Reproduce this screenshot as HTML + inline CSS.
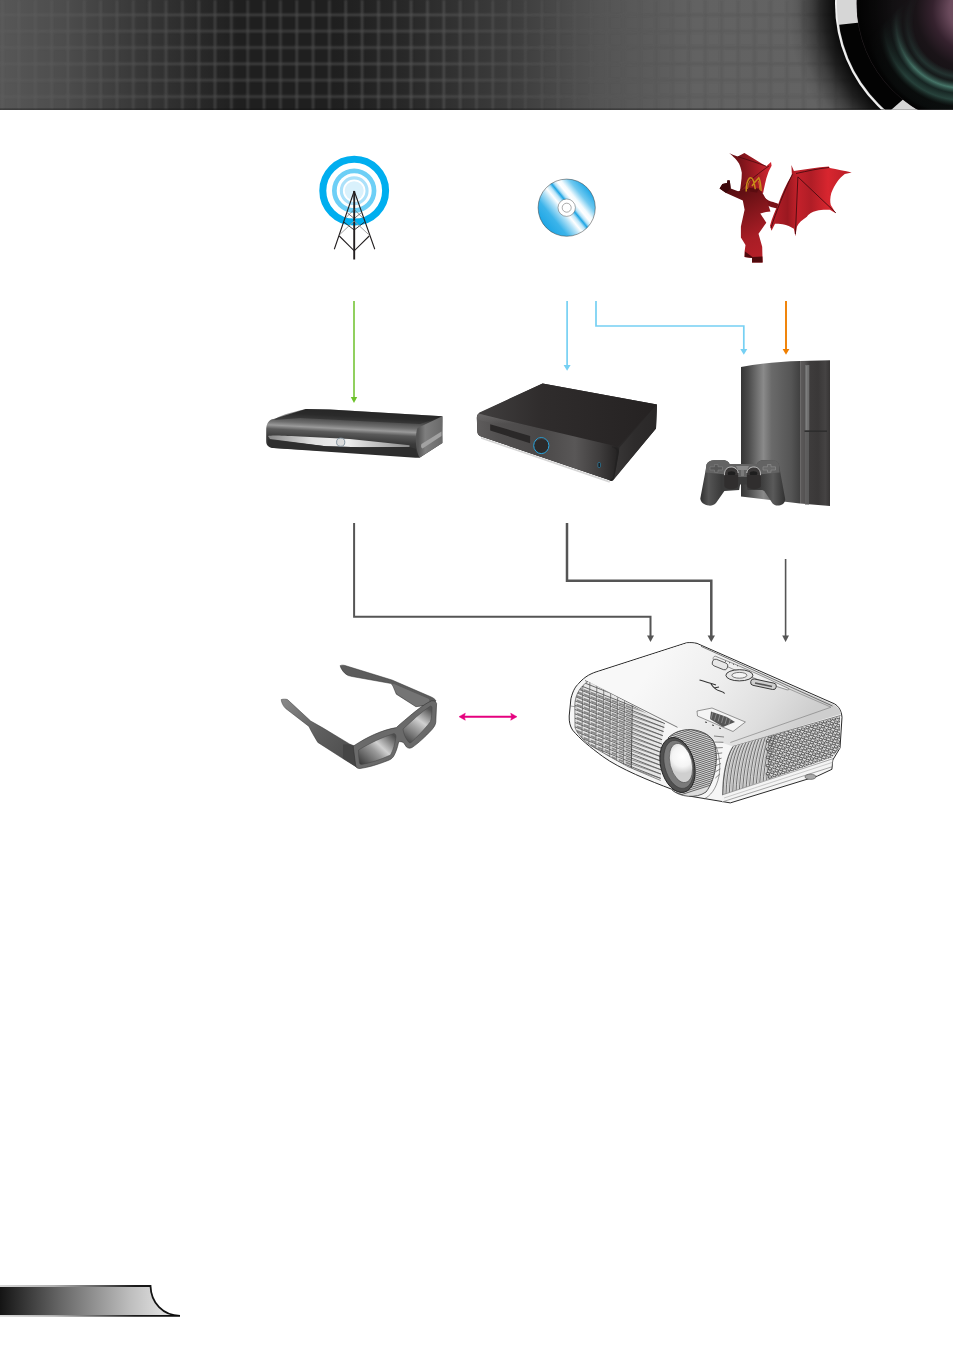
<!DOCTYPE html>
<html><head><meta charset="utf-8">
<style>
html,body{margin:0;padding:0;background:#fff;width:953px;height:1352px;overflow:hidden;font-family:"Liberation Sans",sans-serif;}
svg{display:block;position:absolute;left:0;top:0;}
</style></head>
<body>
<svg width="953" height="1352" viewBox="0 0 953 1352">
<defs>
  <linearGradient id="hdr" x1="0" y1="0" x2="953" y2="0" gradientUnits="userSpaceOnUse">
    <stop offset="0" stop-color="#575757"/>
    <stop offset="0.07" stop-color="#4c4c4c"/>
    <stop offset="0.136" stop-color="#3a3a3a"/>
    <stop offset="0.25" stop-color="#1f1f1f"/>
    <stop offset="0.35" stop-color="#1f1f1f"/>
    <stop offset="0.42" stop-color="#272727"/>
    <stop offset="0.545" stop-color="#3e3e3e"/>
    <stop offset="0.63" stop-color="#545454"/>
    <stop offset="0.73" stop-color="#626262"/>
    <stop offset="1" stop-color="#646464"/>
  </linearGradient>
  <clipPath id="lensBand"><circle cx="979" cy="4" r="141.5"/></clipPath>
  <filter id="gblur" x="-5%" y="-5%" width="110%" height="110%"><feGaussianBlur stdDeviation="0.85"/></filter>
  <pattern id="grid" x="1.76" y="-2.34" width="16.34" height="16.34" patternUnits="userSpaceOnUse">
    <rect x="0" y="-1" width="1.6" height="18.4" fill="#6a6a6a"/>
    <rect x="-1" y="0" width="18.4" height="1.6" fill="#6a6a6a"/>
  </pattern>
  <linearGradient id="gridMaskG" x1="0" y1="0" x2="953" y2="0" gradientUnits="userSpaceOnUse">
    <stop offset="0" stop-color="#fff" stop-opacity="0.35"/>
    <stop offset="0.2" stop-color="#fff" stop-opacity="0.6"/>
    <stop offset="0.45" stop-color="#fff" stop-opacity="0.7"/>
    <stop offset="0.62" stop-color="#fff" stop-opacity="0.25"/>
    <stop offset="0.8" stop-color="#fff" stop-opacity="0.1"/>
    <stop offset="1" stop-color="#fff" stop-opacity="0.1"/>
  </linearGradient>
  <pattern id="gridD" x="1.76" y="-2.34" width="16.34" height="16.34" patternUnits="userSpaceOnUse">
    <rect x="0" y="-1" width="1.8" height="18.4" fill="#4e4e4e"/>
    <rect x="-1" y="0" width="18.4" height="1.8" fill="#4e4e4e"/>
  </pattern>
  <linearGradient id="gridMaskD" x1="0" y1="0" x2="953" y2="0" gradientUnits="userSpaceOnUse">
    <stop offset="0.55" stop-color="#fff" stop-opacity="0"/>
    <stop offset="0.7" stop-color="#fff" stop-opacity="0.45"/>
    <stop offset="1" stop-color="#fff" stop-opacity="0.45"/>
  </linearGradient>
  <mask id="gridMask2" maskUnits="userSpaceOnUse" x="0" y="0" width="953" height="110"><rect x="0" y="0" width="953" height="110" fill="url(#gridMaskD)"/></mask>
  <mask id="gridMask" maskUnits="userSpaceOnUse" x="0" y="0" width="953" height="110"><rect x="0" y="0" width="953" height="110" fill="url(#gridMaskG)"/></mask>
  <radialGradient id="lensShadow" cx="979" cy="4" r="192" gradientUnits="userSpaceOnUse">
    <stop offset="0.74" stop-color="#000" stop-opacity="0.92"/>
    <stop offset="0.81" stop-color="#000" stop-opacity="0.68"/>
    <stop offset="0.87" stop-color="#000" stop-opacity="0.38"/>
    <stop offset="0.95" stop-color="#000" stop-opacity="0.08"/>
    <stop offset="1" stop-color="#000" stop-opacity="0"/>
  </radialGradient>
  <radialGradient id="lensIn" cx="975" cy="10" r="118" gradientUnits="userSpaceOnUse">
    <stop offset="0" stop-color="#7a5866"/>
    <stop offset="0.22" stop-color="#6a4a5c"/>
    <stop offset="0.36" stop-color="#35222e"/>
    <stop offset="0.5" stop-color="#1a1418"/>
    <stop offset="0.7" stop-color="#121012"/>
    <stop offset="1" stop-color="#080808"/>
  </radialGradient>
  <radialGradient id="lensTeal" cx="962" cy="22" r="110" gradientUnits="userSpaceOnUse">
    <stop offset="0.44" stop-color="#2e4a44" stop-opacity="0"/>
    <stop offset="0.5" stop-color="#2a423d" stop-opacity="0.7"/>
    <stop offset="0.54" stop-color="#182422" stop-opacity="0.5"/>
    <stop offset="0.6" stop-color="#4e8274" stop-opacity="0.95"/>
    <stop offset="0.65" stop-color="#1e3430" stop-opacity="0.8"/>
    <stop offset="0.71" stop-color="#3a6258" stop-opacity="0.9"/>
    <stop offset="0.77" stop-color="#121a18" stop-opacity="0.6"/>
    <stop offset="0.84" stop-color="#1e2a28" stop-opacity="0.5"/>
    <stop offset="0.9" stop-color="#000" stop-opacity="0"/>
  </radialGradient>
  <linearGradient id="tealMaskG" x1="0" y1="0" x2="1" y2="1">
    <stop offset="0.25" stop-color="#fff" stop-opacity="0"/>
    <stop offset="0.6" stop-color="#fff" stop-opacity="1"/>
  </linearGradient>
  <mask id="tealMask" maskUnits="userSpaceOnUse" x="850" y="0" width="110" height="110"><rect x="850" y="0" width="110" height="110" fill="url(#tealMaskG)"/></mask>
  <radialGradient id="lensDark" cx="979" cy="4" r="122" gradientUnits="userSpaceOnUse">
    <stop offset="0.7" stop-color="#000" stop-opacity="0"/>
    <stop offset="0.88" stop-color="#000" stop-opacity="0.35"/>
    <stop offset="1" stop-color="#000" stop-opacity="0.7"/>
  </radialGradient>
  <linearGradient id="footg" x1="0" y1="0" x2="160" y2="0" gradientUnits="userSpaceOnUse">
    <stop offset="0" stop-color="#141414"/>
    <stop offset="0.375" stop-color="#666666"/>
    <stop offset="0.81" stop-color="#bdbdbd"/>
    <stop offset="1" stop-color="#dcdcdc"/>
  </linearGradient>
  <linearGradient id="footS" x1="0" y1="0" x2="180" y2="0" gradientUnits="userSpaceOnUse">
    <stop offset="0" stop-color="#d8d8d8"/>
    <stop offset="0.3" stop-color="#b0b0b0"/>
    <stop offset="0.55" stop-color="#606060"/>
    <stop offset="0.75" stop-color="#1a1a1a"/>
    <stop offset="1" stop-color="#0a0a0a"/>
  </linearGradient>
</defs>

<!-- HEADER -->
<g id="header">
  <rect x="0" y="0" width="953" height="110" fill="url(#hdr)"/>
  <g mask="url(#gridMask)"><rect x="0" y="0" width="953" height="110" fill="url(#grid)" filter="url(#gblur)"/></g>
  <g mask="url(#gridMask2)"><rect x="0" y="0" width="953" height="110" fill="url(#gridD)" filter="url(#gblur)"/></g>
  <rect x="0" y="108.6" width="953" height="1" fill="#111" opacity="0.6"/>
  <clipPath id="hclip"><rect x="0" y="0" width="953" height="109.6"/></clipPath>
  <g clip-path="url(#hclip)">
    <circle cx="979" cy="4" r="192" fill="url(#lensShadow)"/>
    <circle cx="979" cy="4" r="144" fill="#f2f2f2"/>
    <circle cx="979" cy="4" r="142.2" fill="#d6d6d6"/>
    <path d="M820,27 L860,22.5 L940,60 L903,99.5 L891,110 L820,110 Z" fill="#030303" clip-path="url(#lensBand)"/>
    <circle cx="979" cy="4" r="122.5" fill="#2a2226"/>
    <circle cx="979" cy="4" r="122" fill="url(#lensIn)"/>
    <circle cx="979" cy="4" r="122" fill="url(#lensTeal)" mask="url(#tealMask)"/>
    <circle cx="979" cy="4" r="122" fill="url(#lensDark)"/>
  </g>
</g>

<!-- FOOTER -->
<g id="footer">
  <path d="M0,1286 L150.5,1286 C151,1303 163,1315.5 180,1315.8 L0,1315.8 Z" fill="url(#footg)"/>
  <path d="M0,1286 L150.5,1286 C151,1303 163,1315.5 180,1315.8 L0,1315.8" fill="none" stroke="url(#footS)" stroke-width="1.8"/>
</g>


<!-- TOWER ICON -->
<g id="tower">
  <circle cx="354.2" cy="190.7" r="31.4" fill="none" stroke="#00aeef" stroke-width="7"/>
  <circle cx="354.2" cy="190.7" r="19.85" fill="none" stroke="#6dcff6" stroke-width="4.7"/>
  <circle cx="354.2" cy="190.7" r="12.85" fill="none" stroke="#abe1fa" stroke-width="3.1"/>
  <circle cx="354.2" cy="190.7" r="9.5" fill="#d9f1fc"/>
  <g stroke="#231f20" fill="none" stroke-linecap="butt">
    <path d="M354.2,191 L334.3,249.3 M354.2,191 L374.8,249.3" stroke-width="1.1"/>
    <path d="M354.2,191 V259.5" stroke-width="1.9"/>
    <path d="M339.3,236 L354.2,250.8 L369.2,236" stroke-width="1.1"/>
    <path d="M343.8,222 L354.2,230 L364.6,222" stroke-width="0.9"/>
    <path d="M339.8,234.5 L354.2,221 L368.6,234.5" stroke="#999" stroke-width="0.9"/>
    <path d="M347.5,213 L354.2,218.5 L360.9,213" stroke-width="0.6"/>
    <path d="M344.5,219 L354.2,209.5 L363.9,219" stroke="#555" stroke-width="0.6"/>
  </g>
</g>

<!-- CD ICON -->
<g id="cd">
  <defs>
    <linearGradient id="cdg" x1="544.6" y1="225.8" x2="588.8" y2="189.6" gradientUnits="userSpaceOnUse">
      <stop offset="0" stop-color="#1ea6e5"/>
      <stop offset="0.2" stop-color="#3cb4ea"/>
      <stop offset="0.36" stop-color="#b4e2f7"/>
      <stop offset="0.44" stop-color="#ffffff"/>
      <stop offset="0.51" stop-color="#b8e4f8"/>
      <stop offset="0.56" stop-color="#1aa4e4"/>
      <stop offset="0.6" stop-color="#b0e0f6"/>
      <stop offset="0.66" stop-color="#ffffff"/>
      <stop offset="0.72" stop-color="#f4fbfe"/>
      <stop offset="0.84" stop-color="#70c9f0"/>
      <stop offset="1" stop-color="#22a9e7"/>
    </linearGradient>
  </defs>
  <circle cx="566.7" cy="207.7" r="28.6" fill="url(#cdg)" stroke="#3a3a3a" stroke-width="0.5"/>
  <circle cx="566.7" cy="207.7" r="8.7" fill="#fff" stroke="#4a4a4a" stroke-width="0.45"/>
  <circle cx="566.7" cy="207.7" r="4.5" fill="#fff" stroke="#4a4a4a" stroke-width="0.45"/>
</g>


<!-- DRAGON ICON -->
<g id="dragon">
  <defs>
    <linearGradient id="dwL" x1="736" y1="0" x2="770" y2="0" gradientUnits="userSpaceOnUse">
      <stop offset="0" stop-color="#6e1116"/>
      <stop offset="0.5" stop-color="#9c1a22"/>
      <stop offset="1" stop-color="#cf2530"/>
    </linearGradient>
    <linearGradient id="dwR" x1="772" y1="0" x2="850" y2="0" gradientUnits="userSpaceOnUse">
      <stop offset="0" stop-color="#b81e28"/>
      <stop offset="0.2" stop-color="#9a1820"/>
      <stop offset="0.33" stop-color="#c4212b"/>
      <stop offset="0.5" stop-color="#b01d26"/>
      <stop offset="0.72" stop-color="#d8262f"/>
      <stop offset="1" stop-color="#b81e27"/>
    </linearGradient>
    <linearGradient id="dbody" x1="725" y1="185" x2="765" y2="260" gradientUnits="userSpaceOnUse">
      <stop offset="0" stop-color="#4a0b0e"/>
      <stop offset="0.35" stop-color="#7a1419"/>
      <stop offset="0.7" stop-color="#a81d25"/>
      <stop offset="1" stop-color="#b82029"/>
    </linearGradient>
  </defs>
  <!-- left wing behind -->
  <path d="M728.9,153.1 C732,154.5 735,155.8 737.7,156.6 L744.4,153.1 C752,157.5 759,162 766.3,166.3 L771,162.1 L771.6,165.8 C770.5,168 769,170.5 768.2,172.8 C766.8,176.5 765.8,180 765,183.9 L763.1,193.1 L740,191.3 C740.3,188.5 740.6,186 740.9,183.9 C741.5,180 741.8,176.5 741.8,172.8 C741,168.5 740,165.5 739,163.5 C737,160.5 735.5,158.8 733.5,157 C732,155.5 730.5,154 728.9,153.1 Z" fill="url(#dwL)"/>
  <path d="M737.7,156.6 C748,160 758,163 766.3,166.3 M740.5,190 C750,180 760,172 769,166" stroke="#4a0a0e" stroke-width="0.8" fill="none"/>
  <!-- right wing -->
  <path d="M791.4,165 L793.9,171 C805,169.5 817,167 828.8,166.5 L829.8,168 C837,169.5 845,170.8 851.7,172.4 L844.8,173.9 C839,178 835,184 831.3,192.9 C830,198 830,202 830.8,204.9 L835.8,213.3 L829.8,209.8 C825,209.5 820,209.8 816.8,210.8 C812,212 808,214.5 806.9,216.8 C802,220 798.5,223 796.9,226.8 L795.4,236.3 L793.9,228.8 C790,226.5 787,225.3 784.9,224.8 C781,224 778,223.6 775,223.8 L771.5,230.8 L770,225.8 C772,218 775,211 778,204.8 C782,194 786,184 791.9,175 Z" fill="url(#dwR)"/>
  <path d="M797.9,176.9 L835.8,212.8 M797.9,176.9 L795.4,234 M796,173.5 C808,171 818,168.5 829,167.5 M771,228 C776,212 784,192 792.5,174" stroke="#4a0a0e" stroke-width="0.9" fill="none"/>
  <!-- arm to wing -->
  <path d="M758,189 C761,195 766,200 771,201.5 C774,202.3 776.5,203 778.5,204 L777,208.5 C773,207.5 769,206.5 765,204.5 C761,202 758.5,199 757,195 Z" fill="#7a1218"/>
  <!-- body -->
  <path d="M719.6,188.5 L722.4,183.9 L727,183 L727.5,180.2 L729.8,180.6 L730.7,188.5 L738.1,191.3 L748,188 L753.9,187.5 L760,189 L763.1,194 L766.8,200.5 L770.5,211.6 L766,212 L760.3,213.5 L766.3,222.7 L758.5,233.8 L762.2,246.8 L762.6,262.5 L752,262.5 L752,257.9 L744.6,256.9 L744.6,251.4 L745.5,244.9 L740.9,237.5 L740.9,226.4 L744.6,209.8 L742.8,200.5 L726.1,193.1 Z" fill="url(#dbody)"/>
  <path d="M744.6,256.9 L752,257.9 L752,262.5 L762.6,262.5 L762.4,256.5 L752.5,257 L745,251.5 Z" fill="#4f0a0d"/>
  <path d="M719.6,188.5 L722.4,183.9 L727,183 L727.5,180.2 L729.8,180.6 L730.7,188.5 L726.1,193.1 Z" fill="#3e080b"/>
  <!-- horns -->
  <path d="M746.2,191.5 C746,186 747,181 749.5,178 C751,177 752.5,178.5 753.5,181 C754.5,184 755,187 755.3,189.5 M752,186 C754,183 756.5,180.5 758.8,177.8 C760,180 760.8,184 761.2,191" stroke="#c8901a" stroke-width="1.4" fill="none"/>
  <path d="M747.5,189 C748,184 749.5,181 750.5,180.5 M758.5,181 C759.3,184 759.8,187 759.8,190" stroke="#e0b030" stroke-width="0.6" fill="none"/>
  <path d="M749,187.5 L755,189.5 L759,188.5 L757,192.5 L750,191.5 Z" fill="#5a0c10"/>
</g>


<!-- SET TOP BOX -->
<g id="stb">
  <defs>
    <linearGradient id="stbBody" x1="340" y1="406" x2="337.4" y2="455" gradientUnits="userSpaceOnUse">
      <stop offset="0" stop-color="#262626"/>
      <stop offset="0.2" stop-color="#333"/>
      <stop offset="0.38" stop-color="#6e6e6e"/>
      <stop offset="0.46" stop-color="#9a9a9a"/>
      <stop offset="0.54" stop-color="#5a5a5a"/>
      <stop offset="0.7" stop-color="#3a3a3a"/>
      <stop offset="1" stop-color="#2a2a2a"/>
    </linearGradient>
    <linearGradient id="stbStrip" x1="270" y1="0" x2="410" y2="0" gradientUnits="userSpaceOnUse">
      <stop offset="0" stop-color="#8a8a8a"/>
      <stop offset="0.3" stop-color="#e0e0e0"/>
      <stop offset="0.55" stop-color="#f0f0f0"/>
      <stop offset="0.8" stop-color="#b8b8b8"/>
      <stop offset="1" stop-color="#8a8a8a"/>
    </linearGradient>
    <linearGradient id="stbSide" x1="418" y1="0" x2="442" y2="0" gradientUnits="userSpaceOnUse">
      <stop offset="0" stop-color="#555"/>
      <stop offset="0.3" stop-color="#7e7e7e"/>
      <stop offset="1" stop-color="#6a6a6a"/>
    </linearGradient>
  </defs>
  <path d="M305.9,409 L330,409.5 L442.4,416.3 L442.4,442.9 L419.5,457.8 L415.5,457.8 L273,448 C268,447.5 266.2,445 266.2,441 L266.2,430 C266.2,423 269,419.5 273.5,418.9 Z" fill="url(#stbBody)"/>
  <path d="M305.9,409 L330,409.5 L442.4,416.3 L420,424 L300,418 L274,420 C278,416 290,412.5 305.9,409 Z" fill="#222" opacity="0.5"/>
  <path d="M268,436 C272,435 280,435.5 300,436.5 L349.7,438.9 L409.5,445.3 L409.5,446.9 L359.7,447.2 L325.8,446.2 L270,439 Z" fill="url(#stbStrip)"/>
  <path d="M268,439.5 L325.8,446.2 L359.7,447.2 L409.5,447 L416,449 L416,456 L274,448 C269,447.5 268,445 268,441 Z" fill="#2e2e2e"/>
  <circle cx="340.7" cy="442.2" r="4.1" fill="#dcdcdc" stroke="#7a8c98" stroke-width="0.9"/>
  <path d="M417.5,427.9 L442.4,416.3 L442.4,442.9 L419.5,457.8 C416.5,452 415.5,444 416,436 C416.3,432 416.8,429.5 417.5,427.9 Z" fill="url(#stbSide)"/>
  <path d="M421.5,444 L441.5,431.5 L441.5,436 L422.5,448.5 C420.8,448 420.8,445.5 421.5,444 Z" fill="#a2a2a2"/>
</g>

<!-- BLU-RAY PLAYER -->
<g id="bd">
  <defs>
    <linearGradient id="bdTop" x1="480" y1="0" x2="657" y2="0" gradientUnits="userSpaceOnUse">
      <stop offset="0" stop-color="#403e3e"/>
      <stop offset="0.35" stop-color="#2f2c2c"/>
      <stop offset="1" stop-color="#252222"/>
    </linearGradient>
    <linearGradient id="bdFront" x1="477" y1="0" x2="617" y2="0" gradientUnits="userSpaceOnUse">
      <stop offset="0" stop-color="#5e5c5c"/>
      <stop offset="0.15" stop-color="#525050"/>
      <stop offset="0.45" stop-color="#4a4848"/>
      <stop offset="0.7" stop-color="#595757"/>
      <stop offset="0.88" stop-color="#3e3c3c"/>
      <stop offset="1" stop-color="#262424"/>
    </linearGradient>
    <linearGradient id="bdSide" x1="612" y1="0" x2="657" y2="0" gradientUnits="userSpaceOnUse">
      <stop offset="0" stop-color="#3a3838"/>
      <stop offset="0.5" stop-color="#2e2c2c"/>
      <stop offset="1" stop-color="#2a2828"/>
    </linearGradient>
    <linearGradient id="bdRim" x1="0" y1="414" x2="0" y2="424" gradientUnits="userSpaceOnUse">
      <stop offset="0" stop-color="#6a6868" stop-opacity="0.9"/>
      <stop offset="1" stop-color="#6a6868" stop-opacity="0"/>
    </linearGradient>
  </defs>
  <path d="M542.6,383.4 L657,404.4 L656,428.5 L611.9,481 L481,436.5 C478,435.5 477.3,433.5 477.3,431 L476.8,418 C476.8,416 477.5,414.5 479,413.5 Z" fill="#2a2828"/>
  <path d="M542.6,383.4 L657,404.4 L620,444.5 C619,446 617.5,446.5 616,446.3 L479,413.8 C478,413.5 478.5,413 479.5,412.5 Z" fill="url(#bdTop)"/>
  <path d="M479,413.8 L616,446.3 C618.5,447 619.5,448.5 619,451 L613.5,478.5 C613,480.5 612,481 610.5,480.5 L481,436.5 C478.5,435.5 477.3,433.5 477.3,431 L476.9,418 C476.9,415 477.5,414 479,413.8 Z" fill="url(#bdFront)"/>
  <path d="M479,413.8 L616,446.3 C618.5,447 619.5,448.5 619,451 L618,455 L479,420 C477.5,419 477,416 479,413.8 Z" fill="url(#bdRim)"/>
  <path d="M619.5,447.5 L657,404.4 L656,428.5 L613,480.5 C614,478 616,470 617.5,460 Z" fill="url(#bdSide)"/>
  <path d="M612,446.5 C617,447.5 619,449 619,452 L614,479 C613,481 611.5,481.5 609,480.5 L613,478 L617,452 C617,449.5 615,448 612,447 Z" fill="#222020" opacity="0.8"/>
  <path d="M481,437 L610,481 L609.5,482.8 L481,438.8 Z" fill="#d6d6d6"/>
  <path d="M490.2,424.3 L530.1,435.9 L530.1,443.2 L490.2,430.6 Z" fill="#2a2828"/>
  <ellipse cx="541.3" cy="445.6" rx="7.6" ry="8" fill="#2c2a2a" stroke="#29a6df" stroke-width="1"/>
  <path d="M536,441 C538,438.5 542,438 545,439.5" fill="none" stroke="#4a4848" stroke-width="1"/>
  <rect x="598" y="462.5" width="2.4" height="5" rx="1" fill="#1a1a1a" stroke="#29a6df" stroke-width="0.5"/>
</g>

<!-- PS3 -->
<g id="ps3">
  <defs>
    <linearGradient id="psFace" x1="741" y1="0" x2="800" y2="0" gradientUnits="userSpaceOnUse">
      <stop offset="0" stop-color="#353535"/>
      <stop offset="0.12" stop-color="#4a4a4a"/>
      <stop offset="0.38" stop-color="#8a8a8a"/>
      <stop offset="0.52" stop-color="#6a6a6a"/>
      <stop offset="0.85" stop-color="#555"/>
      <stop offset="1" stop-color="#404040"/>
    </linearGradient>
    <linearGradient id="psSide" x1="800" y1="0" x2="830" y2="0" gradientUnits="userSpaceOnUse">
      <stop offset="0" stop-color="#5e5c5c"/>
      <stop offset="0.15" stop-color="#555353"/>
      <stop offset="0.32" stop-color="#3e3c3c"/>
      <stop offset="0.6" stop-color="#3a3838"/>
      <stop offset="0.85" stop-color="#454343"/>
      <stop offset="1" stop-color="#363434"/>
    </linearGradient>
    <linearGradient id="ctrl" x1="0" y1="460" x2="0" y2="506" gradientUnits="userSpaceOnUse">
      <stop offset="0" stop-color="#6a6a6a"/>
      <stop offset="0.3" stop-color="#4a4a4a"/>
      <stop offset="1" stop-color="#2e2e2e"/>
    </linearGradient>
    <linearGradient id="grip" x1="700" y1="0" x2="786" y2="0" gradientUnits="userSpaceOnUse">
      <stop offset="0" stop-color="#2e2e2e"/>
      <stop offset="0.1" stop-color="#555"/>
      <stop offset="0.25" stop-color="#3a3a3a"/>
      <stop offset="0.7" stop-color="#3a3a3a"/>
      <stop offset="0.85" stop-color="#5a5a5a"/>
      <stop offset="1" stop-color="#2e2e2e"/>
    </linearGradient>
  </defs>
  <path d="M741,367 C760,363.5 780,361.5 800.1,361 L800.1,503.4 L741,496.6 Z" fill="url(#psFace)"/>
  <path d="M800.1,361 L830,360.2 L830,506 L800.1,503.4 Z" fill="url(#psSide)"/>
  <path d="M805.1,365 L809.3,365 L809.3,430.5 L805.1,430.5 Z" fill="#737373" opacity="0.9"/>
  <path d="M806.2,366 L807.2,366 L807.2,430 L806.2,430 Z" fill="#8a8a8a" opacity="0.7"/>
  <path d="M804.5,430.5 L827,430.5 L827,431.8 L804.5,431.8 Z" fill="#2a2a2a"/>
  <path d="M805,432 L809,432 L809,505 L805,505 Z" fill="#6a6a6a" opacity="0.6"/>
  <!-- controller -->
  <path d="M706.5,464.5 C708,461.5 711,460.3 714,460.3 L724.4,460.3 C727,460.5 728.5,462 729.6,464 L756.9,464 C758,462 759.5,460.5 762.2,460.3 L772.6,460.3 C775.5,460.3 778,461.5 778.9,464.5 L781,476.2 L785.2,499 C785.5,502 783,505 779,505.5 C776,505.8 774,505 772.6,503.5 L764.3,490.9 L762.2,489.9 L747.5,489.9 L746.4,484.6 L740.1,484.6 L739.1,489.9 L724.4,490.9 L716,503 C714,505 711.5,505.8 709,505.6 C704,505 700.5,502 700.3,498.5 L705.5,471 Z" fill="url(#grip)"/>
  <path d="M706.5,464.5 C708,461.5 711,460.3 714,460.3 L724.4,460.3 C727,460.5 728.5,462 729.6,464 L756.9,464 C758,462 759.5,460.5 762.2,460.3 L772.6,460.3 C775.5,460.3 778,461.5 778.9,464.5 L779.6,472.5 L760,474.5 L748,477 L738,477 L726,474.5 L705.6,472.5 Z" fill="#636363"/>
  <path d="M710,466.8 H714.5 V464.5 H718 V466.8 H722.5 V470 H718 V472.3 H714.5 V470 H710 Z" fill="#575757" stroke="#808080" stroke-width="0.6"/>
  <path d="M763,466.8 H767.5 V464.5 H771 V466.8 H775.5 V470 H771 V472.3 H767.5 V470 H763 Z" fill="#6a6a6a" stroke="#909090" stroke-width="0.6"/>
  <path d="M736,466 L749,466 L747,470 L738,470 Z" fill="#8a8a8a"/>
  <path d="M741,470 L744,470 L744,476 L741,476 Z" fill="#7a7a7a"/>
  <circle cx="731.2" cy="474" r="7" fill="#3a3838"/>
  <circle cx="753.8" cy="474" r="7" fill="#3a3838"/>
  <path d="M724.5,476 C724,470 727,467 731.2,467 C735,467 738,469.5 738.2,473" fill="none" stroke="#e0e0e0" stroke-width="0.9" opacity="0.85"/>
  <path d="M746.8,473 C747,469.5 750,467 753.8,467 C758,467 761,470 760.5,476" fill="none" stroke="#e0e0e0" stroke-width="0.9" opacity="0.85"/>
  <ellipse cx="731.5" cy="473.5" rx="3.8" ry="2.2" fill="#1e1e1e"/>
  <ellipse cx="753.5" cy="473.5" rx="3.8" ry="2.2" fill="#1e1e1e"/>
  <path d="M724.2,475 L738.2,475 L738,486.5 C735,490 727,490 724.4,486.5 Z" fill="#302e2e"/>
  <path d="M746.8,475 L760.8,475 L760.8,486.5 C758,490 750,490 747.2,486.5 Z" fill="#302e2e"/>
</g>


<!-- GLASSES -->
<g id="glasses">
  <defs>
    <linearGradient id="glFrame" x1="280" y1="700" x2="357" y2="765" gradientUnits="userSpaceOnUse">
      <stop offset="0" stop-color="#8a8a8a"/>
      <stop offset="0.5" stop-color="#5e5e5e"/>
      <stop offset="1" stop-color="#4a4a4a"/>
    </linearGradient>
    <linearGradient id="glLens" x1="362" y1="766" x2="392" y2="734" gradientUnits="userSpaceOnUse">
      <stop offset="0" stop-color="#3a3a3a"/>
      <stop offset="0.45" stop-color="#9a9a9a"/>
      <stop offset="0.62" stop-color="#d0d0d0"/>
      <stop offset="1" stop-color="#4e4e4e"/>
    </linearGradient>
    <linearGradient id="glLens2" x1="406" y1="744" x2="430" y2="710" gradientUnits="userSpaceOnUse">
      <stop offset="0" stop-color="#3a3a3a"/>
      <stop offset="0.45" stop-color="#a0a0a0"/>
      <stop offset="0.65" stop-color="#d0d0d0"/>
      <stop offset="1" stop-color="#555"/>
    </linearGradient>
  </defs>
  <!-- back temple -->
  <path d="M340.1,665.7 C341,665 343,665 345,665.5 L392,680 L430.2,696.5 C433,697.5 435.5,699.5 436,701 L431,705 L415.9,706.7 L396.3,694.2 C394,689 393,685 391,683.5 L352,676.5 L348.1,675.5 C344,673.5 341,669 340.1,665.7 Z" fill="#5c5c5c" stroke="#333" stroke-width="0.5"/>
  <path d="M392,684.5 C394,687 395,691 397,694 L415.9,706.2 L430,704 L429,699 L394,684 Z" fill="#7a7a7a" opacity="0.8"/>
  <!-- front temple (left) -->
  <path d="M281.2,699.6 C283,699 286,699 287.5,699.6 L310.7,721 L323.2,728.1 L349.9,744.2 L357,747 L357.1,767.4 L342.8,758.5 L317.8,742.4 C314,736 311,731 308.9,726.4 L285.7,708.5 C283,706 281.5,702.5 281.2,699.6 Z" fill="url(#glFrame)" stroke="#3a3a3a" stroke-width="0.5"/>
  <path d="M343,744.5 L349.9,744.2 L357,747 L357.1,767.4 L343,758.5 Z" fill="#454545"/>
  <!-- front frame -->
  <path d="M353.5,746 C367,737 382,730 396.3,727.6 L400,724.2 C411,715 422,705 431.5,700.8 C434,700.3 436,701.5 436.6,703.5 L435.8,722 C435.5,725 434,727 432,729.5 C425,737 418,743.5 412,747.5 C410,748.5 408,748.3 406.5,747 L403.4,742.4 C401,741.5 399.5,741.5 398.6,742 C397.5,748 395.5,753 393.5,756.5 C392,758.5 390.5,759.5 388,760.5 C378,764.5 368,767.5 360,768.5 C357.5,768.8 356,767.5 355.6,765 L353.5,749 C353.3,747.5 353.3,746.5 353.5,746 Z" fill="#6a6a6a" stroke="#333" stroke-width="0.6"/>
  <path d="M358.5,750 C370,743 383,737 394,733.5 C395.5,734 396,735 396,737 C395,743 393.5,750 390.5,755 C380,760 370,763 361.5,764.5 C360,764.5 359.5,763.5 359.3,762 C358.8,758 358.5,754 358.5,750 Z" fill="url(#glLens)" stroke="#444" stroke-width="0.5"/>
  <path d="M403,729 C412,721 421,712 430.5,706 C431.5,706 432,707 432,708 C432,713 431.5,718 430.5,721.5 C424,730 416,738 411,742.5 C410,743 409,742.8 408.5,742 C405.5,738 403.5,734 403,729 Z" fill="url(#glLens2)" stroke="#444" stroke-width="0.5"/>
</g>

<!-- PROJECTOR -->
<g id="projector">
  <defs>
    <linearGradient id="pjTop" x1="660" y1="655" x2="790" y2="745" gradientUnits="userSpaceOnUse">
      <stop offset="0" stop-color="#f8f8f8"/>
      <stop offset="0.4" stop-color="#eeeeee"/>
      <stop offset="0.75" stop-color="#dedede"/>
      <stop offset="1" stop-color="#cecece"/>
    </linearGradient>
    <radialGradient id="glassG" cx="684" cy="757" r="17" gradientUnits="userSpaceOnUse">
      <stop offset="0" stop-color="#ffffff"/>
      <stop offset="0.6" stop-color="#f4f4f4"/>
      <stop offset="1" stop-color="#cfcfcf"/>
    </radialGradient>
    <clipPath id="gL"><path d="M588,681.3 L665,723.3 L662,740 L660.7,780.5 C650,776 638,771 628,766.6 C612,758 600,751 590.2,745.2 C582,739 577,733 575,727.6 L574.8,705 C575,694 581,686 588,681.3 Z"/></clipPath>
    <clipPath id="gR"><path d="M722.7,795 C722.5,777 726,757 733,746.5 L840,716.4 L840,747.7 L831.9,757.3 Z"/></clipPath>
    <clipPath id="barrel"><path d="M668,738 C680,726 702,727 713,740 C719,752 717,778 706,792 C696,799 680,797 672,790 Z"/></clipPath>
  </defs>
  <path d="M686.5,642.8 C690,642.4 694,642.6 697,643.4 L834.4,703.8 C839,706.5 841.5,711 842,717.3 L840,748 L832.7,760.1 L831.9,769.3 L817.6,776 L730.3,802.9 L690,796.2 L672,789.3 C650,781 620,769 602.8,756.5 C590,747 580,739 572.6,730.1 C570,726 569,722 569.2,716 L570.9,698.8 C573,690 576,686 578.5,683.7 C585,676 592,673 598.6,671.1 Z" fill="#f6f6f6" stroke="#2a2a2a" stroke-width="1"/>
  <path d="M686.5,643.6 C690,643.2 694,643.4 697,644.2 L833.5,704.5 C838,707 840.5,710 841,714 L733,746.5 L677.5,727.3 L585.2,680.3 C590,676 594,674 598.6,671.9 Z" fill="url(#pjTop)"/>
  <path d="M715.2,656.8 L831,707.2 L730.3,742.5" fill="none" stroke="#777" stroke-width="0.6"/>
  <path d="M585,680.5 L677.5,727.3 M733,746.5 L840.5,715.5" fill="none" stroke="#444" stroke-width="0.7"/>
  <g clip-path="url(#gL)">
    <rect x="570" y="675" width="100" height="110" fill="#e6e6e6"/>
    <path d="M574,678.70 L668,716.00" stroke="#3e3e3e" stroke-width="0.75"/>
    <path d="M574,683.05 L668,720.35" stroke="#3e3e3e" stroke-width="0.75"/>
    <path d="M574,687.40 L668,724.70" stroke="#3e3e3e" stroke-width="0.75"/>
    <path d="M574,691.75 L668,729.05" stroke="#3e3e3e" stroke-width="0.75"/>
    <path d="M574,696.10 L668,733.40" stroke="#3e3e3e" stroke-width="0.75"/>
    <path d="M574,700.45 L668,737.75" stroke="#3e3e3e" stroke-width="0.75"/>
    <path d="M574,704.80 L668,742.10" stroke="#3e3e3e" stroke-width="0.75"/>
    <path d="M574,709.15 L668,746.45" stroke="#3e3e3e" stroke-width="0.75"/>
    <path d="M574,713.50 L668,750.80" stroke="#3e3e3e" stroke-width="0.75"/>
    <path d="M574,717.85 L668,755.15" stroke="#3e3e3e" stroke-width="0.75"/>
    <path d="M574,722.20 L668,759.50" stroke="#3e3e3e" stroke-width="0.75"/>
    <path d="M574,726.55 L668,763.85" stroke="#3e3e3e" stroke-width="0.75"/>
    <path d="M574,730.90 L668,768.20" stroke="#3e3e3e" stroke-width="0.75"/>
    <path d="M574,735.25 L668,772.55" stroke="#3e3e3e" stroke-width="0.75"/>
    <path d="M574,739.60 L668,776.90" stroke="#3e3e3e" stroke-width="0.75"/>
    <path d="M574,743.95 L668,781.25" stroke="#3e3e3e" stroke-width="0.75"/>
    <path d="M574,748.30 L668,785.60" stroke="#3e3e3e" stroke-width="0.75"/>
    <path d="M574,752.65 L668,789.95" stroke="#3e3e3e" stroke-width="0.75"/>
    <path d="M583,676 L581,790" stroke="#555" stroke-width="0.7"/>
    <path d="M590,676 L588,790" stroke="#555" stroke-width="0.7"/>
    <path d="M597,676 L595,790" stroke="#555" stroke-width="0.7"/>
    <path d="M604,676 L602,790" stroke="#555" stroke-width="0.7"/>
    <path d="M611,676 L609,790" stroke="#555" stroke-width="0.7"/>
    <path d="M618,676 L616,790" stroke="#555" stroke-width="0.7"/>
    <path d="M625,676 L623,790" stroke="#555" stroke-width="0.7"/>
    <path d="M576.6,686.31 L582.2,688.41 L582.2,690.41 L576.6,688.31 Z" fill="#8a8a8a"/>
    <path d="M583.6,688.95 L589.2,691.05 L589.2,693.05 L583.6,690.95 Z" fill="#8a8a8a"/>
    <path d="M590.6,691.59 L596.2,693.69 L596.2,695.69 L590.6,693.59 Z" fill="#8a8a8a"/>
    <path d="M597.6,694.24 L603.2,696.34 L603.2,698.34 L597.6,696.24 Z" fill="#8a8a8a"/>
    <path d="M604.6,696.88 L610.2,698.98 L610.2,700.98 L604.6,698.88 Z" fill="#8a8a8a"/>
    <path d="M611.6,699.52 L617.2,701.62 L617.2,703.62 L611.6,701.52 Z" fill="#8a8a8a"/>
    <path d="M618.6,702.17 L624.2,704.27 L624.2,706.27 L618.6,704.17 Z" fill="#8a8a8a"/>
    <path d="M625.6,704.81 L631.2,706.91 L631.2,708.91 L625.6,706.81 Z" fill="#8a8a8a"/>
    <path d="M576.6,690.66 L582.2,692.76 L582.2,694.76 L576.6,692.66 Z" fill="#8a8a8a"/>
    <path d="M583.6,693.30 L589.2,695.40 L589.2,697.40 L583.6,695.30 Z" fill="#8a8a8a"/>
    <path d="M590.6,695.94 L596.2,698.04 L596.2,700.04 L590.6,697.94 Z" fill="#8a8a8a"/>
    <path d="M597.6,698.59 L603.2,700.69 L603.2,702.69 L597.6,700.59 Z" fill="#8a8a8a"/>
    <path d="M604.6,701.23 L610.2,703.33 L610.2,705.33 L604.6,703.23 Z" fill="#8a8a8a"/>
    <path d="M611.6,703.87 L617.2,705.97 L617.2,707.97 L611.6,705.87 Z" fill="#8a8a8a"/>
    <path d="M618.6,706.52 L624.2,708.62 L624.2,710.62 L618.6,708.52 Z" fill="#8a8a8a"/>
    <path d="M625.6,709.16 L631.2,711.26 L631.2,713.26 L625.6,711.16 Z" fill="#8a8a8a"/>
    <path d="M576.6,695.01 L582.2,697.11 L582.2,699.11 L576.6,697.01 Z" fill="#8a8a8a"/>
    <path d="M583.6,697.65 L589.2,699.75 L589.2,701.75 L583.6,699.65 Z" fill="#8a8a8a"/>
    <path d="M590.6,700.29 L596.2,702.39 L596.2,704.39 L590.6,702.29 Z" fill="#8a8a8a"/>
    <path d="M597.6,702.94 L603.2,705.04 L603.2,707.04 L597.6,704.94 Z" fill="#8a8a8a"/>
    <path d="M604.6,705.58 L610.2,707.68 L610.2,709.68 L604.6,707.58 Z" fill="#8a8a8a"/>
    <path d="M611.6,708.22 L617.2,710.32 L617.2,712.32 L611.6,710.22 Z" fill="#8a8a8a"/>
    <path d="M618.6,710.87 L624.2,712.97 L624.2,714.97 L618.6,712.87 Z" fill="#8a8a8a"/>
    <path d="M625.6,713.51 L631.2,715.61 L631.2,717.61 L625.6,715.51 Z" fill="#8a8a8a"/>
    <path d="M576.6,699.36 L582.2,701.46 L582.2,703.46 L576.6,701.36 Z" fill="#8a8a8a"/>
    <path d="M583.6,702.00 L589.2,704.10 L589.2,706.10 L583.6,704.00 Z" fill="#8a8a8a"/>
    <path d="M590.6,704.64 L596.2,706.74 L596.2,708.74 L590.6,706.64 Z" fill="#8a8a8a"/>
    <path d="M597.6,707.29 L603.2,709.39 L603.2,711.39 L597.6,709.29 Z" fill="#8a8a8a"/>
    <path d="M604.6,709.93 L610.2,712.03 L610.2,714.03 L604.6,711.93 Z" fill="#8a8a8a"/>
    <path d="M611.6,712.57 L617.2,714.67 L617.2,716.67 L611.6,714.57 Z" fill="#8a8a8a"/>
    <path d="M618.6,715.22 L624.2,717.32 L624.2,719.32 L618.6,717.22 Z" fill="#8a8a8a"/>
    <path d="M625.6,717.86 L631.2,719.96 L631.2,721.96 L625.6,719.86 Z" fill="#8a8a8a"/>
    <path d="M576.6,703.71 L582.2,705.81 L582.2,707.81 L576.6,705.71 Z" fill="#8a8a8a"/>
    <path d="M583.6,706.35 L589.2,708.45 L589.2,710.45 L583.6,708.35 Z" fill="#8a8a8a"/>
    <path d="M590.6,708.99 L596.2,711.09 L596.2,713.09 L590.6,710.99 Z" fill="#8a8a8a"/>
    <path d="M597.6,711.64 L603.2,713.74 L603.2,715.74 L597.6,713.64 Z" fill="#8a8a8a"/>
    <path d="M604.6,714.28 L610.2,716.38 L610.2,718.38 L604.6,716.28 Z" fill="#8a8a8a"/>
    <path d="M611.6,716.92 L617.2,719.02 L617.2,721.02 L611.6,718.92 Z" fill="#8a8a8a"/>
    <path d="M618.6,719.57 L624.2,721.67 L624.2,723.67 L618.6,721.57 Z" fill="#8a8a8a"/>
    <path d="M625.6,722.21 L631.2,724.31 L631.2,726.31 L625.6,724.21 Z" fill="#8a8a8a"/>
    <path d="M576.6,708.06 L582.2,710.16 L582.2,712.16 L576.6,710.06 Z" fill="#8a8a8a"/>
    <path d="M583.6,710.70 L589.2,712.80 L589.2,714.80 L583.6,712.70 Z" fill="#8a8a8a"/>
    <path d="M590.6,713.34 L596.2,715.44 L596.2,717.44 L590.6,715.34 Z" fill="#8a8a8a"/>
    <path d="M597.6,715.99 L603.2,718.09 L603.2,720.09 L597.6,717.99 Z" fill="#8a8a8a"/>
    <path d="M604.6,718.63 L610.2,720.73 L610.2,722.73 L604.6,720.63 Z" fill="#8a8a8a"/>
    <path d="M611.6,721.27 L617.2,723.37 L617.2,725.37 L611.6,723.27 Z" fill="#8a8a8a"/>
    <path d="M618.6,723.92 L624.2,726.02 L624.2,728.02 L618.6,725.92 Z" fill="#8a8a8a"/>
    <path d="M625.6,726.56 L631.2,728.66 L631.2,730.66 L625.6,728.56 Z" fill="#8a8a8a"/>
    <path d="M576.6,712.41 L582.2,714.51 L582.2,716.51 L576.6,714.41 Z" fill="#8a8a8a"/>
    <path d="M583.6,715.05 L589.2,717.15 L589.2,719.15 L583.6,717.05 Z" fill="#8a8a8a"/>
    <path d="M590.6,717.69 L596.2,719.79 L596.2,721.79 L590.6,719.69 Z" fill="#8a8a8a"/>
    <path d="M597.6,720.34 L603.2,722.44 L603.2,724.44 L597.6,722.34 Z" fill="#8a8a8a"/>
    <path d="M604.6,722.98 L610.2,725.08 L610.2,727.08 L604.6,724.98 Z" fill="#8a8a8a"/>
    <path d="M611.6,725.62 L617.2,727.72 L617.2,729.72 L611.6,727.62 Z" fill="#8a8a8a"/>
    <path d="M618.6,728.27 L624.2,730.37 L624.2,732.37 L618.6,730.27 Z" fill="#8a8a8a"/>
    <path d="M625.6,730.91 L631.2,733.01 L631.2,735.01 L625.6,732.91 Z" fill="#8a8a8a"/>
    <path d="M576.6,716.76 L582.2,718.86 L582.2,720.86 L576.6,718.76 Z" fill="#8a8a8a"/>
    <path d="M583.6,719.40 L589.2,721.50 L589.2,723.50 L583.6,721.40 Z" fill="#8a8a8a"/>
    <path d="M590.6,722.04 L596.2,724.14 L596.2,726.14 L590.6,724.04 Z" fill="#8a8a8a"/>
    <path d="M597.6,724.69 L603.2,726.79 L603.2,728.79 L597.6,726.69 Z" fill="#8a8a8a"/>
    <path d="M604.6,727.33 L610.2,729.43 L610.2,731.43 L604.6,729.33 Z" fill="#8a8a8a"/>
    <path d="M611.6,729.97 L617.2,732.07 L617.2,734.07 L611.6,731.97 Z" fill="#8a8a8a"/>
    <path d="M618.6,732.62 L624.2,734.72 L624.2,736.72 L618.6,734.62 Z" fill="#8a8a8a"/>
    <path d="M625.6,735.26 L631.2,737.36 L631.2,739.36 L625.6,737.26 Z" fill="#8a8a8a"/>
    <path d="M576.6,721.11 L582.2,723.21 L582.2,725.21 L576.6,723.11 Z" fill="#8a8a8a"/>
    <path d="M583.6,723.75 L589.2,725.85 L589.2,727.85 L583.6,725.75 Z" fill="#8a8a8a"/>
    <path d="M590.6,726.39 L596.2,728.49 L596.2,730.49 L590.6,728.39 Z" fill="#8a8a8a"/>
    <path d="M597.6,729.04 L603.2,731.14 L603.2,733.14 L597.6,731.04 Z" fill="#8a8a8a"/>
    <path d="M604.6,731.68 L610.2,733.78 L610.2,735.78 L604.6,733.68 Z" fill="#8a8a8a"/>
    <path d="M611.6,734.32 L617.2,736.42 L617.2,738.42 L611.6,736.32 Z" fill="#8a8a8a"/>
    <path d="M618.6,736.97 L624.2,739.07 L624.2,741.07 L618.6,738.97 Z" fill="#8a8a8a"/>
    <path d="M625.6,739.61 L631.2,741.71 L631.2,743.71 L625.6,741.61 Z" fill="#8a8a8a"/>
    <path d="M576.6,725.46 L582.2,727.56 L582.2,729.56 L576.6,727.46 Z" fill="#8a8a8a"/>
    <path d="M583.6,728.10 L589.2,730.20 L589.2,732.20 L583.6,730.10 Z" fill="#8a8a8a"/>
    <path d="M590.6,730.74 L596.2,732.84 L596.2,734.84 L590.6,732.74 Z" fill="#8a8a8a"/>
    <path d="M597.6,733.39 L603.2,735.49 L603.2,737.49 L597.6,735.39 Z" fill="#8a8a8a"/>
    <path d="M604.6,736.03 L610.2,738.13 L610.2,740.13 L604.6,738.03 Z" fill="#8a8a8a"/>
    <path d="M611.6,738.67 L617.2,740.77 L617.2,742.77 L611.6,740.67 Z" fill="#8a8a8a"/>
    <path d="M618.6,741.32 L624.2,743.42 L624.2,745.42 L618.6,743.32 Z" fill="#8a8a8a"/>
    <path d="M625.6,743.96 L631.2,746.06 L631.2,748.06 L625.6,745.96 Z" fill="#8a8a8a"/>
    <path d="M576.6,729.81 L582.2,731.91 L582.2,733.91 L576.6,731.81 Z" fill="#8a8a8a"/>
    <path d="M583.6,732.45 L589.2,734.55 L589.2,736.55 L583.6,734.45 Z" fill="#8a8a8a"/>
    <path d="M590.6,735.09 L596.2,737.19 L596.2,739.19 L590.6,737.09 Z" fill="#8a8a8a"/>
    <path d="M597.6,737.74 L603.2,739.84 L603.2,741.84 L597.6,739.74 Z" fill="#8a8a8a"/>
    <path d="M604.6,740.38 L610.2,742.48 L610.2,744.48 L604.6,742.38 Z" fill="#8a8a8a"/>
    <path d="M611.6,743.02 L617.2,745.12 L617.2,747.12 L611.6,745.02 Z" fill="#8a8a8a"/>
    <path d="M618.6,745.67 L624.2,747.77 L624.2,749.77 L618.6,747.67 Z" fill="#8a8a8a"/>
    <path d="M625.6,748.31 L631.2,750.41 L631.2,752.41 L625.6,750.31 Z" fill="#8a8a8a"/>
    <path d="M576.6,734.16 L582.2,736.26 L582.2,738.26 L576.6,736.16 Z" fill="#8a8a8a"/>
    <path d="M583.6,736.80 L589.2,738.90 L589.2,740.90 L583.6,738.80 Z" fill="#8a8a8a"/>
    <path d="M590.6,739.44 L596.2,741.54 L596.2,743.54 L590.6,741.44 Z" fill="#8a8a8a"/>
    <path d="M597.6,742.09 L603.2,744.19 L603.2,746.19 L597.6,744.09 Z" fill="#8a8a8a"/>
    <path d="M604.6,744.73 L610.2,746.83 L610.2,748.83 L604.6,746.73 Z" fill="#8a8a8a"/>
    <path d="M611.6,747.37 L617.2,749.47 L617.2,751.47 L611.6,749.37 Z" fill="#8a8a8a"/>
    <path d="M618.6,750.02 L624.2,752.12 L624.2,754.12 L618.6,752.02 Z" fill="#8a8a8a"/>
    <path d="M625.6,752.66 L631.2,754.76 L631.2,756.76 L625.6,754.66 Z" fill="#8a8a8a"/>
    <path d="M576.6,738.51 L582.2,740.61 L582.2,742.61 L576.6,740.51 Z" fill="#8a8a8a"/>
    <path d="M583.6,741.15 L589.2,743.25 L589.2,745.25 L583.6,743.15 Z" fill="#8a8a8a"/>
    <path d="M590.6,743.79 L596.2,745.89 L596.2,747.89 L590.6,745.79 Z" fill="#8a8a8a"/>
    <path d="M597.6,746.44 L603.2,748.54 L603.2,750.54 L597.6,748.44 Z" fill="#8a8a8a"/>
    <path d="M604.6,749.08 L610.2,751.18 L610.2,753.18 L604.6,751.08 Z" fill="#8a8a8a"/>
    <path d="M611.6,751.72 L617.2,753.82 L617.2,755.82 L611.6,753.72 Z" fill="#8a8a8a"/>
    <path d="M618.6,754.37 L624.2,756.47 L624.2,758.47 L618.6,756.37 Z" fill="#8a8a8a"/>
    <path d="M625.6,757.01 L631.2,759.11 L631.2,761.11 L625.6,759.01 Z" fill="#8a8a8a"/>
    <path d="M576.6,742.86 L582.2,744.96 L582.2,746.96 L576.6,744.86 Z" fill="#8a8a8a"/>
    <path d="M583.6,745.50 L589.2,747.60 L589.2,749.60 L583.6,747.50 Z" fill="#8a8a8a"/>
    <path d="M590.6,748.14 L596.2,750.24 L596.2,752.24 L590.6,750.14 Z" fill="#8a8a8a"/>
    <path d="M597.6,750.79 L603.2,752.89 L603.2,754.89 L597.6,752.79 Z" fill="#8a8a8a"/>
    <path d="M604.6,753.43 L610.2,755.53 L610.2,757.53 L604.6,755.43 Z" fill="#8a8a8a"/>
    <path d="M611.6,756.07 L617.2,758.17 L617.2,760.17 L611.6,758.07 Z" fill="#8a8a8a"/>
    <path d="M618.6,758.72 L624.2,760.82 L624.2,762.82 L618.6,760.72 Z" fill="#8a8a8a"/>
    <path d="M625.6,761.36 L631.2,763.46 L631.2,765.46 L625.6,763.36 Z" fill="#8a8a8a"/>
    <path d="M576.6,747.21 L582.2,749.31 L582.2,751.31 L576.6,749.21 Z" fill="#8a8a8a"/>
    <path d="M583.6,749.85 L589.2,751.95 L589.2,753.95 L583.6,751.85 Z" fill="#8a8a8a"/>
    <path d="M590.6,752.49 L596.2,754.59 L596.2,756.59 L590.6,754.49 Z" fill="#8a8a8a"/>
    <path d="M597.6,755.14 L603.2,757.24 L603.2,759.24 L597.6,757.14 Z" fill="#8a8a8a"/>
    <path d="M604.6,757.78 L610.2,759.88 L610.2,761.88 L604.6,759.78 Z" fill="#8a8a8a"/>
    <path d="M611.6,760.42 L617.2,762.52 L617.2,764.52 L611.6,762.42 Z" fill="#8a8a8a"/>
    <path d="M618.6,763.07 L624.2,765.17 L624.2,767.17 L618.6,765.07 Z" fill="#8a8a8a"/>
    <path d="M625.6,765.71 L631.2,767.81 L631.2,769.81 L625.6,767.71 Z" fill="#8a8a8a"/>
    <path d="M632.2,705 L631,790" stroke="#333" stroke-width="0.8"/>
    <path d="M632,703.40 L668,715.64" stroke="#5a5a5a" stroke-width="0.6"/>
    <path d="M632,707.75 L668,719.99" stroke="#5a5a5a" stroke-width="0.6"/>
    <path d="M632,712.10 L668,724.34" stroke="#5a5a5a" stroke-width="0.6"/>
    <path d="M632,716.45 L668,728.69" stroke="#5a5a5a" stroke-width="0.6"/>
    <path d="M632,720.80 L668,733.04" stroke="#5a5a5a" stroke-width="0.6"/>
    <path d="M632,725.15 L668,737.39" stroke="#5a5a5a" stroke-width="0.6"/>
    <path d="M632,729.50 L668,741.74" stroke="#5a5a5a" stroke-width="0.6"/>
    <path d="M632,733.85 L668,746.09" stroke="#5a5a5a" stroke-width="0.6"/>
    <path d="M632,738.20 L668,750.44" stroke="#5a5a5a" stroke-width="0.6"/>
    <path d="M632,742.55 L668,754.79" stroke="#5a5a5a" stroke-width="0.6"/>
    <path d="M632,746.90 L668,759.14" stroke="#5a5a5a" stroke-width="0.6"/>
    <path d="M632,751.25 L668,763.49" stroke="#5a5a5a" stroke-width="0.6"/>
    <path d="M632,755.60 L668,767.84" stroke="#5a5a5a" stroke-width="0.6"/>
    <path d="M632,759.95 L668,772.19" stroke="#5a5a5a" stroke-width="0.6"/>
    <path d="M632,764.30 L668,776.54" stroke="#5a5a5a" stroke-width="0.6"/>
    <path d="M632,768.65 L668,780.89" stroke="#5a5a5a" stroke-width="0.6"/>
    <path d="M632,773.00 L668,785.24" stroke="#5a5a5a" stroke-width="0.6"/>
    <path d="M632,777.35 L668,789.59" stroke="#5a5a5a" stroke-width="0.6"/>
  </g>
  <path d="M588,681.3 C581,686 575,694 574.8,705 L575,727.6 C577,733 582,739 590.2,745.2 C600,751 612,758 628,766.6 C638,771 650,776 660.7,780.5" fill="none" stroke="#444" stroke-width="0.6"/>
  <path d="M570.5,706 L576.7,707" stroke="#555" stroke-width="0.5"/>
  <g clip-path="url(#gR)">
    <rect x="715" y="710" width="130" height="90" fill="#dcdcdc"/>
    <path d="M722.7,800 C722.5,779.0 726.0,758.0 733.0,746.5" fill="none" stroke="#3e3e3e" stroke-width="0.7"/>
    <path d="M724.4,800 C724.2,780.0 727.7,759.0 734.7,747.5" fill="none" stroke="#a0a0a0" stroke-width="0.5"/>
    <path d="M726.0,800 C725.8,779.3 729.3,757.6 736.3,745.4" fill="none" stroke="#3e3e3e" stroke-width="0.7"/>
    <path d="M727.7,800 C727.5,780.3 731.0,758.6 738.0,746.4" fill="none" stroke="#a0a0a0" stroke-width="0.5"/>
    <path d="M729.3,800 C729.1,779.6 732.6,757.2 739.6,744.3" fill="none" stroke="#3e3e3e" stroke-width="0.7"/>
    <path d="M731.0,800 C730.8,780.6 734.3,758.2 741.3,745.3" fill="none" stroke="#a0a0a0" stroke-width="0.5"/>
    <path d="M732.6,800 C732.4,779.9 735.9,756.8 742.9,743.2" fill="none" stroke="#3e3e3e" stroke-width="0.7"/>
    <path d="M734.3,800 C734.1,780.9 737.6,757.8 744.6,744.2" fill="none" stroke="#a0a0a0" stroke-width="0.5"/>
    <path d="M735.9,800 C735.7,780.2 739.2,756.4 746.2,742.1" fill="none" stroke="#3e3e3e" stroke-width="0.7"/>
    <path d="M737.6,800 C737.4,781.2 740.9,757.4 747.9,743.1" fill="none" stroke="#a0a0a0" stroke-width="0.5"/>
    <path d="M739.2,800 C739.0,780.5 742.5,756.0 749.5,741.0" fill="none" stroke="#3e3e3e" stroke-width="0.7"/>
    <path d="M740.9,800 C740.7,781.5 744.2,757.0 751.2,742.0" fill="none" stroke="#a0a0a0" stroke-width="0.5"/>
    <path d="M742.5,800 C742.3,780.8 745.8,755.6 752.8,739.9" fill="none" stroke="#3e3e3e" stroke-width="0.7"/>
    <path d="M744.2,800 C744.0,781.8 747.5,756.6 754.5,740.9" fill="none" stroke="#a0a0a0" stroke-width="0.5"/>
    <path d="M745.8,800 C745.6,781.1 749.1,755.2 756.1,738.8" fill="none" stroke="#3e3e3e" stroke-width="0.7"/>
    <path d="M747.5,800 C747.3,782.1 750.8,756.2 757.8,739.8" fill="none" stroke="#a0a0a0" stroke-width="0.5"/>
    <path d="M749.1,800 C748.9,781.4 752.4,754.8 759.4,737.7" fill="none" stroke="#3e3e3e" stroke-width="0.7"/>
    <path d="M750.8,800 C750.6,782.4 754.1,755.8 761.1,738.7" fill="none" stroke="#a0a0a0" stroke-width="0.5"/>
    <path d="M752.4,800 C752.2,781.7 755.7,754.4 762.7,736.6" fill="none" stroke="#3e3e3e" stroke-width="0.7"/>
    <path d="M754.1,800 C753.9,782.7 757.4,755.4 764.4,737.6" fill="none" stroke="#a0a0a0" stroke-width="0.5"/>
    <path d="M755.7,800 C755.5,782.0 759.0,754.0 766.0,735.5" fill="none" stroke="#3e3e3e" stroke-width="0.7"/>
    <path d="M757.4,800 C757.2,783.0 760.7,755.0 767.7,736.5" fill="none" stroke="#a0a0a0" stroke-width="0.5"/>
    <path d="M759.0,800 C758.8,782.3 762.3,753.6 769.3,734.4" fill="none" stroke="#3e3e3e" stroke-width="0.7"/>
    <path d="M760.7,800 C760.5,783.3 764.0,754.6 771.0,735.4" fill="none" stroke="#a0a0a0" stroke-width="0.5"/>
    <path d="M762.3,800 C762.1,782.6 765.6,753.2 772.6,733.3" fill="none" stroke="#3e3e3e" stroke-width="0.7"/>
    <path d="M764.0,800 C763.8,783.6 767.3,754.2 774.3,734.3" fill="none" stroke="#a0a0a0" stroke-width="0.5"/>
    <path d="M765.6,800 C765.4,782.9 768.9,752.8 775.9,732.2" fill="none" stroke="#3e3e3e" stroke-width="0.7"/>
    <path d="M767.3,800 C767.1,783.9 770.6,753.8 777.6,733.2" fill="none" stroke="#a0a0a0" stroke-width="0.5"/>
    <ellipse cx="768.0" cy="732.8" rx="1.9" ry="1.35" fill="#9a9a9a" stroke="#383838" stroke-width="0.7"/>
    <ellipse cx="767.7" cy="732.4" rx="0.9" ry="0.5" fill="#eee"/>
    <ellipse cx="772.4" cy="731.3" rx="1.9" ry="1.35" fill="#9a9a9a" stroke="#383838" stroke-width="0.7"/>
    <ellipse cx="772.1" cy="730.9" rx="0.9" ry="0.5" fill="#eee"/>
    <ellipse cx="776.8" cy="729.9" rx="1.9" ry="1.35" fill="#9a9a9a" stroke="#383838" stroke-width="0.7"/>
    <ellipse cx="776.5" cy="729.5" rx="0.9" ry="0.5" fill="#eee"/>
    <ellipse cx="781.2" cy="728.4" rx="1.9" ry="1.35" fill="#9a9a9a" stroke="#383838" stroke-width="0.7"/>
    <ellipse cx="780.9" cy="728.0" rx="0.9" ry="0.5" fill="#eee"/>
    <ellipse cx="785.6" cy="726.9" rx="1.9" ry="1.35" fill="#9a9a9a" stroke="#383838" stroke-width="0.7"/>
    <ellipse cx="785.3" cy="726.5" rx="0.9" ry="0.5" fill="#eee"/>
    <ellipse cx="790.0" cy="725.5" rx="1.9" ry="1.35" fill="#9a9a9a" stroke="#383838" stroke-width="0.7"/>
    <ellipse cx="789.7" cy="725.1" rx="0.9" ry="0.5" fill="#eee"/>
    <ellipse cx="794.4" cy="724.0" rx="1.9" ry="1.35" fill="#9a9a9a" stroke="#383838" stroke-width="0.7"/>
    <ellipse cx="794.1" cy="723.6" rx="0.9" ry="0.5" fill="#eee"/>
    <ellipse cx="798.8" cy="722.5" rx="1.9" ry="1.35" fill="#9a9a9a" stroke="#383838" stroke-width="0.7"/>
    <ellipse cx="798.5" cy="722.1" rx="0.9" ry="0.5" fill="#eee"/>
    <ellipse cx="803.2" cy="721.1" rx="1.9" ry="1.35" fill="#9a9a9a" stroke="#383838" stroke-width="0.7"/>
    <ellipse cx="802.9" cy="720.7" rx="0.9" ry="0.5" fill="#eee"/>
    <ellipse cx="807.6" cy="719.6" rx="1.9" ry="1.35" fill="#9a9a9a" stroke="#383838" stroke-width="0.7"/>
    <ellipse cx="807.3" cy="719.2" rx="0.9" ry="0.5" fill="#eee"/>
    <ellipse cx="812.0" cy="718.1" rx="1.9" ry="1.35" fill="#9a9a9a" stroke="#383838" stroke-width="0.7"/>
    <ellipse cx="811.7" cy="717.7" rx="0.9" ry="0.5" fill="#eee"/>
    <ellipse cx="816.4" cy="716.7" rx="1.9" ry="1.35" fill="#9a9a9a" stroke="#383838" stroke-width="0.7"/>
    <ellipse cx="816.1" cy="716.3" rx="0.9" ry="0.5" fill="#eee"/>
    <ellipse cx="820.8" cy="715.2" rx="1.9" ry="1.35" fill="#9a9a9a" stroke="#383838" stroke-width="0.7"/>
    <ellipse cx="820.5" cy="714.8" rx="0.9" ry="0.5" fill="#eee"/>
    <ellipse cx="825.2" cy="713.8" rx="1.9" ry="1.35" fill="#9a9a9a" stroke="#383838" stroke-width="0.7"/>
    <ellipse cx="824.9" cy="713.4" rx="0.9" ry="0.5" fill="#eee"/>
    <ellipse cx="829.6" cy="712.3" rx="1.9" ry="1.35" fill="#9a9a9a" stroke="#383838" stroke-width="0.7"/>
    <ellipse cx="829.3" cy="711.9" rx="0.9" ry="0.5" fill="#eee"/>
    <ellipse cx="834.0" cy="710.8" rx="1.9" ry="1.35" fill="#9a9a9a" stroke="#383838" stroke-width="0.7"/>
    <ellipse cx="833.7" cy="710.4" rx="0.9" ry="0.5" fill="#eee"/>
    <ellipse cx="838.4" cy="709.4" rx="1.9" ry="1.35" fill="#9a9a9a" stroke="#383838" stroke-width="0.7"/>
    <ellipse cx="838.1" cy="709.0" rx="0.9" ry="0.5" fill="#eee"/>
    <ellipse cx="842.8" cy="707.9" rx="1.9" ry="1.35" fill="#9a9a9a" stroke="#383838" stroke-width="0.7"/>
    <ellipse cx="842.5" cy="707.5" rx="0.9" ry="0.5" fill="#eee"/>
    <ellipse cx="847.2" cy="706.4" rx="1.9" ry="1.35" fill="#9a9a9a" stroke="#383838" stroke-width="0.7"/>
    <ellipse cx="846.9" cy="706.0" rx="0.9" ry="0.5" fill="#eee"/>
    <ellipse cx="851.6" cy="705.0" rx="1.9" ry="1.35" fill="#9a9a9a" stroke="#383838" stroke-width="0.7"/>
    <ellipse cx="851.3" cy="704.6" rx="0.9" ry="0.5" fill="#eee"/>
    <ellipse cx="856.0" cy="703.5" rx="1.9" ry="1.35" fill="#9a9a9a" stroke="#383838" stroke-width="0.7"/>
    <ellipse cx="855.7" cy="703.1" rx="0.9" ry="0.5" fill="#eee"/>
    <ellipse cx="860.4" cy="702.0" rx="1.9" ry="1.35" fill="#9a9a9a" stroke="#383838" stroke-width="0.7"/>
    <ellipse cx="860.1" cy="701.6" rx="0.9" ry="0.5" fill="#eee"/>
    <ellipse cx="770.2" cy="736.2" rx="1.9" ry="1.35" fill="#9a9a9a" stroke="#383838" stroke-width="0.7"/>
    <ellipse cx="769.9" cy="735.8" rx="0.9" ry="0.5" fill="#eee"/>
    <ellipse cx="774.6" cy="734.7" rx="1.9" ry="1.35" fill="#9a9a9a" stroke="#383838" stroke-width="0.7"/>
    <ellipse cx="774.3" cy="734.3" rx="0.9" ry="0.5" fill="#eee"/>
    <ellipse cx="779.0" cy="733.2" rx="1.9" ry="1.35" fill="#9a9a9a" stroke="#383838" stroke-width="0.7"/>
    <ellipse cx="778.7" cy="732.8" rx="0.9" ry="0.5" fill="#eee"/>
    <ellipse cx="783.4" cy="731.8" rx="1.9" ry="1.35" fill="#9a9a9a" stroke="#383838" stroke-width="0.7"/>
    <ellipse cx="783.1" cy="731.4" rx="0.9" ry="0.5" fill="#eee"/>
    <ellipse cx="787.8" cy="730.3" rx="1.9" ry="1.35" fill="#9a9a9a" stroke="#383838" stroke-width="0.7"/>
    <ellipse cx="787.5" cy="729.9" rx="0.9" ry="0.5" fill="#eee"/>
    <ellipse cx="792.2" cy="728.8" rx="1.9" ry="1.35" fill="#9a9a9a" stroke="#383838" stroke-width="0.7"/>
    <ellipse cx="791.9" cy="728.4" rx="0.9" ry="0.5" fill="#eee"/>
    <ellipse cx="796.6" cy="727.4" rx="1.9" ry="1.35" fill="#9a9a9a" stroke="#383838" stroke-width="0.7"/>
    <ellipse cx="796.3" cy="727.0" rx="0.9" ry="0.5" fill="#eee"/>
    <ellipse cx="801.0" cy="725.9" rx="1.9" ry="1.35" fill="#9a9a9a" stroke="#383838" stroke-width="0.7"/>
    <ellipse cx="800.7" cy="725.5" rx="0.9" ry="0.5" fill="#eee"/>
    <ellipse cx="805.4" cy="724.4" rx="1.9" ry="1.35" fill="#9a9a9a" stroke="#383838" stroke-width="0.7"/>
    <ellipse cx="805.1" cy="724.0" rx="0.9" ry="0.5" fill="#eee"/>
    <ellipse cx="809.8" cy="723.0" rx="1.9" ry="1.35" fill="#9a9a9a" stroke="#383838" stroke-width="0.7"/>
    <ellipse cx="809.5" cy="722.6" rx="0.9" ry="0.5" fill="#eee"/>
    <ellipse cx="814.2" cy="721.5" rx="1.9" ry="1.35" fill="#9a9a9a" stroke="#383838" stroke-width="0.7"/>
    <ellipse cx="813.9" cy="721.1" rx="0.9" ry="0.5" fill="#eee"/>
    <ellipse cx="818.6" cy="720.1" rx="1.9" ry="1.35" fill="#9a9a9a" stroke="#383838" stroke-width="0.7"/>
    <ellipse cx="818.3" cy="719.7" rx="0.9" ry="0.5" fill="#eee"/>
    <ellipse cx="823.0" cy="718.6" rx="1.9" ry="1.35" fill="#9a9a9a" stroke="#383838" stroke-width="0.7"/>
    <ellipse cx="822.7" cy="718.2" rx="0.9" ry="0.5" fill="#eee"/>
    <ellipse cx="827.4" cy="717.1" rx="1.9" ry="1.35" fill="#9a9a9a" stroke="#383838" stroke-width="0.7"/>
    <ellipse cx="827.1" cy="716.7" rx="0.9" ry="0.5" fill="#eee"/>
    <ellipse cx="831.8" cy="715.7" rx="1.9" ry="1.35" fill="#9a9a9a" stroke="#383838" stroke-width="0.7"/>
    <ellipse cx="831.5" cy="715.3" rx="0.9" ry="0.5" fill="#eee"/>
    <ellipse cx="836.2" cy="714.2" rx="1.9" ry="1.35" fill="#9a9a9a" stroke="#383838" stroke-width="0.7"/>
    <ellipse cx="835.9" cy="713.8" rx="0.9" ry="0.5" fill="#eee"/>
    <ellipse cx="840.6" cy="712.7" rx="1.9" ry="1.35" fill="#9a9a9a" stroke="#383838" stroke-width="0.7"/>
    <ellipse cx="840.3" cy="712.3" rx="0.9" ry="0.5" fill="#eee"/>
    <ellipse cx="845.0" cy="711.3" rx="1.9" ry="1.35" fill="#9a9a9a" stroke="#383838" stroke-width="0.7"/>
    <ellipse cx="844.7" cy="710.9" rx="0.9" ry="0.5" fill="#eee"/>
    <ellipse cx="849.4" cy="709.8" rx="1.9" ry="1.35" fill="#9a9a9a" stroke="#383838" stroke-width="0.7"/>
    <ellipse cx="849.1" cy="709.4" rx="0.9" ry="0.5" fill="#eee"/>
    <ellipse cx="853.8" cy="708.3" rx="1.9" ry="1.35" fill="#9a9a9a" stroke="#383838" stroke-width="0.7"/>
    <ellipse cx="853.5" cy="707.9" rx="0.9" ry="0.5" fill="#eee"/>
    <ellipse cx="858.2" cy="706.9" rx="1.9" ry="1.35" fill="#9a9a9a" stroke="#383838" stroke-width="0.7"/>
    <ellipse cx="857.9" cy="706.5" rx="0.9" ry="0.5" fill="#eee"/>
    <ellipse cx="862.6" cy="705.4" rx="1.9" ry="1.35" fill="#9a9a9a" stroke="#383838" stroke-width="0.7"/>
    <ellipse cx="862.3" cy="705.0" rx="0.9" ry="0.5" fill="#eee"/>
    <ellipse cx="768.0" cy="741.0" rx="1.9" ry="1.35" fill="#9a9a9a" stroke="#383838" stroke-width="0.7"/>
    <ellipse cx="767.7" cy="740.6" rx="0.9" ry="0.5" fill="#eee"/>
    <ellipse cx="772.4" cy="739.5" rx="1.9" ry="1.35" fill="#9a9a9a" stroke="#383838" stroke-width="0.7"/>
    <ellipse cx="772.1" cy="739.1" rx="0.9" ry="0.5" fill="#eee"/>
    <ellipse cx="776.8" cy="738.1" rx="1.9" ry="1.35" fill="#9a9a9a" stroke="#383838" stroke-width="0.7"/>
    <ellipse cx="776.5" cy="737.7" rx="0.9" ry="0.5" fill="#eee"/>
    <ellipse cx="781.2" cy="736.6" rx="1.9" ry="1.35" fill="#9a9a9a" stroke="#383838" stroke-width="0.7"/>
    <ellipse cx="780.9" cy="736.2" rx="0.9" ry="0.5" fill="#eee"/>
    <ellipse cx="785.6" cy="735.1" rx="1.9" ry="1.35" fill="#9a9a9a" stroke="#383838" stroke-width="0.7"/>
    <ellipse cx="785.3" cy="734.7" rx="0.9" ry="0.5" fill="#eee"/>
    <ellipse cx="790.0" cy="733.7" rx="1.9" ry="1.35" fill="#9a9a9a" stroke="#383838" stroke-width="0.7"/>
    <ellipse cx="789.7" cy="733.3" rx="0.9" ry="0.5" fill="#eee"/>
    <ellipse cx="794.4" cy="732.2" rx="1.9" ry="1.35" fill="#9a9a9a" stroke="#383838" stroke-width="0.7"/>
    <ellipse cx="794.1" cy="731.8" rx="0.9" ry="0.5" fill="#eee"/>
    <ellipse cx="798.8" cy="730.7" rx="1.9" ry="1.35" fill="#9a9a9a" stroke="#383838" stroke-width="0.7"/>
    <ellipse cx="798.5" cy="730.3" rx="0.9" ry="0.5" fill="#eee"/>
    <ellipse cx="803.2" cy="729.3" rx="1.9" ry="1.35" fill="#9a9a9a" stroke="#383838" stroke-width="0.7"/>
    <ellipse cx="802.9" cy="728.9" rx="0.9" ry="0.5" fill="#eee"/>
    <ellipse cx="807.6" cy="727.8" rx="1.9" ry="1.35" fill="#9a9a9a" stroke="#383838" stroke-width="0.7"/>
    <ellipse cx="807.3" cy="727.4" rx="0.9" ry="0.5" fill="#eee"/>
    <ellipse cx="812.0" cy="726.3" rx="1.9" ry="1.35" fill="#9a9a9a" stroke="#383838" stroke-width="0.7"/>
    <ellipse cx="811.7" cy="725.9" rx="0.9" ry="0.5" fill="#eee"/>
    <ellipse cx="816.4" cy="724.9" rx="1.9" ry="1.35" fill="#9a9a9a" stroke="#383838" stroke-width="0.7"/>
    <ellipse cx="816.1" cy="724.5" rx="0.9" ry="0.5" fill="#eee"/>
    <ellipse cx="820.8" cy="723.4" rx="1.9" ry="1.35" fill="#9a9a9a" stroke="#383838" stroke-width="0.7"/>
    <ellipse cx="820.5" cy="723.0" rx="0.9" ry="0.5" fill="#eee"/>
    <ellipse cx="825.2" cy="722.0" rx="1.9" ry="1.35" fill="#9a9a9a" stroke="#383838" stroke-width="0.7"/>
    <ellipse cx="824.9" cy="721.6" rx="0.9" ry="0.5" fill="#eee"/>
    <ellipse cx="829.6" cy="720.5" rx="1.9" ry="1.35" fill="#9a9a9a" stroke="#383838" stroke-width="0.7"/>
    <ellipse cx="829.3" cy="720.1" rx="0.9" ry="0.5" fill="#eee"/>
    <ellipse cx="834.0" cy="719.0" rx="1.9" ry="1.35" fill="#9a9a9a" stroke="#383838" stroke-width="0.7"/>
    <ellipse cx="833.7" cy="718.6" rx="0.9" ry="0.5" fill="#eee"/>
    <ellipse cx="838.4" cy="717.6" rx="1.9" ry="1.35" fill="#9a9a9a" stroke="#383838" stroke-width="0.7"/>
    <ellipse cx="838.1" cy="717.2" rx="0.9" ry="0.5" fill="#eee"/>
    <ellipse cx="842.8" cy="716.1" rx="1.9" ry="1.35" fill="#9a9a9a" stroke="#383838" stroke-width="0.7"/>
    <ellipse cx="842.5" cy="715.7" rx="0.9" ry="0.5" fill="#eee"/>
    <ellipse cx="847.2" cy="714.6" rx="1.9" ry="1.35" fill="#9a9a9a" stroke="#383838" stroke-width="0.7"/>
    <ellipse cx="846.9" cy="714.2" rx="0.9" ry="0.5" fill="#eee"/>
    <ellipse cx="851.6" cy="713.2" rx="1.9" ry="1.35" fill="#9a9a9a" stroke="#383838" stroke-width="0.7"/>
    <ellipse cx="851.3" cy="712.8" rx="0.9" ry="0.5" fill="#eee"/>
    <ellipse cx="856.0" cy="711.7" rx="1.9" ry="1.35" fill="#9a9a9a" stroke="#383838" stroke-width="0.7"/>
    <ellipse cx="855.7" cy="711.3" rx="0.9" ry="0.5" fill="#eee"/>
    <ellipse cx="860.4" cy="710.2" rx="1.9" ry="1.35" fill="#9a9a9a" stroke="#383838" stroke-width="0.7"/>
    <ellipse cx="860.1" cy="709.8" rx="0.9" ry="0.5" fill="#eee"/>
    <ellipse cx="770.2" cy="744.4" rx="1.9" ry="1.35" fill="#9a9a9a" stroke="#383838" stroke-width="0.7"/>
    <ellipse cx="769.9" cy="744.0" rx="0.9" ry="0.5" fill="#eee"/>
    <ellipse cx="774.6" cy="742.9" rx="1.9" ry="1.35" fill="#9a9a9a" stroke="#383838" stroke-width="0.7"/>
    <ellipse cx="774.3" cy="742.5" rx="0.9" ry="0.5" fill="#eee"/>
    <ellipse cx="779.0" cy="741.4" rx="1.9" ry="1.35" fill="#9a9a9a" stroke="#383838" stroke-width="0.7"/>
    <ellipse cx="778.7" cy="741.0" rx="0.9" ry="0.5" fill="#eee"/>
    <ellipse cx="783.4" cy="740.0" rx="1.9" ry="1.35" fill="#9a9a9a" stroke="#383838" stroke-width="0.7"/>
    <ellipse cx="783.1" cy="739.6" rx="0.9" ry="0.5" fill="#eee"/>
    <ellipse cx="787.8" cy="738.5" rx="1.9" ry="1.35" fill="#9a9a9a" stroke="#383838" stroke-width="0.7"/>
    <ellipse cx="787.5" cy="738.1" rx="0.9" ry="0.5" fill="#eee"/>
    <ellipse cx="792.2" cy="737.0" rx="1.9" ry="1.35" fill="#9a9a9a" stroke="#383838" stroke-width="0.7"/>
    <ellipse cx="791.9" cy="736.6" rx="0.9" ry="0.5" fill="#eee"/>
    <ellipse cx="796.6" cy="735.6" rx="1.9" ry="1.35" fill="#9a9a9a" stroke="#383838" stroke-width="0.7"/>
    <ellipse cx="796.3" cy="735.2" rx="0.9" ry="0.5" fill="#eee"/>
    <ellipse cx="801.0" cy="734.1" rx="1.9" ry="1.35" fill="#9a9a9a" stroke="#383838" stroke-width="0.7"/>
    <ellipse cx="800.7" cy="733.7" rx="0.9" ry="0.5" fill="#eee"/>
    <ellipse cx="805.4" cy="732.6" rx="1.9" ry="1.35" fill="#9a9a9a" stroke="#383838" stroke-width="0.7"/>
    <ellipse cx="805.1" cy="732.2" rx="0.9" ry="0.5" fill="#eee"/>
    <ellipse cx="809.8" cy="731.2" rx="1.9" ry="1.35" fill="#9a9a9a" stroke="#383838" stroke-width="0.7"/>
    <ellipse cx="809.5" cy="730.8" rx="0.9" ry="0.5" fill="#eee"/>
    <ellipse cx="814.2" cy="729.7" rx="1.9" ry="1.35" fill="#9a9a9a" stroke="#383838" stroke-width="0.7"/>
    <ellipse cx="813.9" cy="729.3" rx="0.9" ry="0.5" fill="#eee"/>
    <ellipse cx="818.6" cy="728.3" rx="1.9" ry="1.35" fill="#9a9a9a" stroke="#383838" stroke-width="0.7"/>
    <ellipse cx="818.3" cy="727.9" rx="0.9" ry="0.5" fill="#eee"/>
    <ellipse cx="823.0" cy="726.8" rx="1.9" ry="1.35" fill="#9a9a9a" stroke="#383838" stroke-width="0.7"/>
    <ellipse cx="822.7" cy="726.4" rx="0.9" ry="0.5" fill="#eee"/>
    <ellipse cx="827.4" cy="725.3" rx="1.9" ry="1.35" fill="#9a9a9a" stroke="#383838" stroke-width="0.7"/>
    <ellipse cx="827.1" cy="724.9" rx="0.9" ry="0.5" fill="#eee"/>
    <ellipse cx="831.8" cy="723.9" rx="1.9" ry="1.35" fill="#9a9a9a" stroke="#383838" stroke-width="0.7"/>
    <ellipse cx="831.5" cy="723.5" rx="0.9" ry="0.5" fill="#eee"/>
    <ellipse cx="836.2" cy="722.4" rx="1.9" ry="1.35" fill="#9a9a9a" stroke="#383838" stroke-width="0.7"/>
    <ellipse cx="835.9" cy="722.0" rx="0.9" ry="0.5" fill="#eee"/>
    <ellipse cx="840.6" cy="720.9" rx="1.9" ry="1.35" fill="#9a9a9a" stroke="#383838" stroke-width="0.7"/>
    <ellipse cx="840.3" cy="720.5" rx="0.9" ry="0.5" fill="#eee"/>
    <ellipse cx="845.0" cy="719.5" rx="1.9" ry="1.35" fill="#9a9a9a" stroke="#383838" stroke-width="0.7"/>
    <ellipse cx="844.7" cy="719.1" rx="0.9" ry="0.5" fill="#eee"/>
    <ellipse cx="849.4" cy="718.0" rx="1.9" ry="1.35" fill="#9a9a9a" stroke="#383838" stroke-width="0.7"/>
    <ellipse cx="849.1" cy="717.6" rx="0.9" ry="0.5" fill="#eee"/>
    <ellipse cx="853.8" cy="716.5" rx="1.9" ry="1.35" fill="#9a9a9a" stroke="#383838" stroke-width="0.7"/>
    <ellipse cx="853.5" cy="716.1" rx="0.9" ry="0.5" fill="#eee"/>
    <ellipse cx="858.2" cy="715.1" rx="1.9" ry="1.35" fill="#9a9a9a" stroke="#383838" stroke-width="0.7"/>
    <ellipse cx="857.9" cy="714.7" rx="0.9" ry="0.5" fill="#eee"/>
    <ellipse cx="862.6" cy="713.6" rx="1.9" ry="1.35" fill="#9a9a9a" stroke="#383838" stroke-width="0.7"/>
    <ellipse cx="862.3" cy="713.2" rx="0.9" ry="0.5" fill="#eee"/>
    <ellipse cx="768.0" cy="749.2" rx="1.9" ry="1.35" fill="#9a9a9a" stroke="#383838" stroke-width="0.7"/>
    <ellipse cx="767.7" cy="748.8" rx="0.9" ry="0.5" fill="#eee"/>
    <ellipse cx="772.4" cy="747.7" rx="1.9" ry="1.35" fill="#9a9a9a" stroke="#383838" stroke-width="0.7"/>
    <ellipse cx="772.1" cy="747.3" rx="0.9" ry="0.5" fill="#eee"/>
    <ellipse cx="776.8" cy="746.3" rx="1.9" ry="1.35" fill="#9a9a9a" stroke="#383838" stroke-width="0.7"/>
    <ellipse cx="776.5" cy="745.9" rx="0.9" ry="0.5" fill="#eee"/>
    <ellipse cx="781.2" cy="744.8" rx="1.9" ry="1.35" fill="#9a9a9a" stroke="#383838" stroke-width="0.7"/>
    <ellipse cx="780.9" cy="744.4" rx="0.9" ry="0.5" fill="#eee"/>
    <ellipse cx="785.6" cy="743.3" rx="1.9" ry="1.35" fill="#9a9a9a" stroke="#383838" stroke-width="0.7"/>
    <ellipse cx="785.3" cy="742.9" rx="0.9" ry="0.5" fill="#eee"/>
    <ellipse cx="790.0" cy="741.9" rx="1.9" ry="1.35" fill="#9a9a9a" stroke="#383838" stroke-width="0.7"/>
    <ellipse cx="789.7" cy="741.5" rx="0.9" ry="0.5" fill="#eee"/>
    <ellipse cx="794.4" cy="740.4" rx="1.9" ry="1.35" fill="#9a9a9a" stroke="#383838" stroke-width="0.7"/>
    <ellipse cx="794.1" cy="740.0" rx="0.9" ry="0.5" fill="#eee"/>
    <ellipse cx="798.8" cy="738.9" rx="1.9" ry="1.35" fill="#9a9a9a" stroke="#383838" stroke-width="0.7"/>
    <ellipse cx="798.5" cy="738.5" rx="0.9" ry="0.5" fill="#eee"/>
    <ellipse cx="803.2" cy="737.5" rx="1.9" ry="1.35" fill="#9a9a9a" stroke="#383838" stroke-width="0.7"/>
    <ellipse cx="802.9" cy="737.1" rx="0.9" ry="0.5" fill="#eee"/>
    <ellipse cx="807.6" cy="736.0" rx="1.9" ry="1.35" fill="#9a9a9a" stroke="#383838" stroke-width="0.7"/>
    <ellipse cx="807.3" cy="735.6" rx="0.9" ry="0.5" fill="#eee"/>
    <ellipse cx="812.0" cy="734.5" rx="1.9" ry="1.35" fill="#9a9a9a" stroke="#383838" stroke-width="0.7"/>
    <ellipse cx="811.7" cy="734.1" rx="0.9" ry="0.5" fill="#eee"/>
    <ellipse cx="816.4" cy="733.1" rx="1.9" ry="1.35" fill="#9a9a9a" stroke="#383838" stroke-width="0.7"/>
    <ellipse cx="816.1" cy="732.7" rx="0.9" ry="0.5" fill="#eee"/>
    <ellipse cx="820.8" cy="731.6" rx="1.9" ry="1.35" fill="#9a9a9a" stroke="#383838" stroke-width="0.7"/>
    <ellipse cx="820.5" cy="731.2" rx="0.9" ry="0.5" fill="#eee"/>
    <ellipse cx="825.2" cy="730.2" rx="1.9" ry="1.35" fill="#9a9a9a" stroke="#383838" stroke-width="0.7"/>
    <ellipse cx="824.9" cy="729.8" rx="0.9" ry="0.5" fill="#eee"/>
    <ellipse cx="829.6" cy="728.7" rx="1.9" ry="1.35" fill="#9a9a9a" stroke="#383838" stroke-width="0.7"/>
    <ellipse cx="829.3" cy="728.3" rx="0.9" ry="0.5" fill="#eee"/>
    <ellipse cx="834.0" cy="727.2" rx="1.9" ry="1.35" fill="#9a9a9a" stroke="#383838" stroke-width="0.7"/>
    <ellipse cx="833.7" cy="726.8" rx="0.9" ry="0.5" fill="#eee"/>
    <ellipse cx="838.4" cy="725.8" rx="1.9" ry="1.35" fill="#9a9a9a" stroke="#383838" stroke-width="0.7"/>
    <ellipse cx="838.1" cy="725.4" rx="0.9" ry="0.5" fill="#eee"/>
    <ellipse cx="842.8" cy="724.3" rx="1.9" ry="1.35" fill="#9a9a9a" stroke="#383838" stroke-width="0.7"/>
    <ellipse cx="842.5" cy="723.9" rx="0.9" ry="0.5" fill="#eee"/>
    <ellipse cx="847.2" cy="722.8" rx="1.9" ry="1.35" fill="#9a9a9a" stroke="#383838" stroke-width="0.7"/>
    <ellipse cx="846.9" cy="722.4" rx="0.9" ry="0.5" fill="#eee"/>
    <ellipse cx="851.6" cy="721.4" rx="1.9" ry="1.35" fill="#9a9a9a" stroke="#383838" stroke-width="0.7"/>
    <ellipse cx="851.3" cy="721.0" rx="0.9" ry="0.5" fill="#eee"/>
    <ellipse cx="856.0" cy="719.9" rx="1.9" ry="1.35" fill="#9a9a9a" stroke="#383838" stroke-width="0.7"/>
    <ellipse cx="855.7" cy="719.5" rx="0.9" ry="0.5" fill="#eee"/>
    <ellipse cx="860.4" cy="718.4" rx="1.9" ry="1.35" fill="#9a9a9a" stroke="#383838" stroke-width="0.7"/>
    <ellipse cx="860.1" cy="718.0" rx="0.9" ry="0.5" fill="#eee"/>
    <ellipse cx="770.2" cy="752.6" rx="1.9" ry="1.35" fill="#9a9a9a" stroke="#383838" stroke-width="0.7"/>
    <ellipse cx="769.9" cy="752.2" rx="0.9" ry="0.5" fill="#eee"/>
    <ellipse cx="774.6" cy="751.1" rx="1.9" ry="1.35" fill="#9a9a9a" stroke="#383838" stroke-width="0.7"/>
    <ellipse cx="774.3" cy="750.7" rx="0.9" ry="0.5" fill="#eee"/>
    <ellipse cx="779.0" cy="749.6" rx="1.9" ry="1.35" fill="#9a9a9a" stroke="#383838" stroke-width="0.7"/>
    <ellipse cx="778.7" cy="749.2" rx="0.9" ry="0.5" fill="#eee"/>
    <ellipse cx="783.4" cy="748.2" rx="1.9" ry="1.35" fill="#9a9a9a" stroke="#383838" stroke-width="0.7"/>
    <ellipse cx="783.1" cy="747.8" rx="0.9" ry="0.5" fill="#eee"/>
    <ellipse cx="787.8" cy="746.7" rx="1.9" ry="1.35" fill="#9a9a9a" stroke="#383838" stroke-width="0.7"/>
    <ellipse cx="787.5" cy="746.3" rx="0.9" ry="0.5" fill="#eee"/>
    <ellipse cx="792.2" cy="745.2" rx="1.9" ry="1.35" fill="#9a9a9a" stroke="#383838" stroke-width="0.7"/>
    <ellipse cx="791.9" cy="744.8" rx="0.9" ry="0.5" fill="#eee"/>
    <ellipse cx="796.6" cy="743.8" rx="1.9" ry="1.35" fill="#9a9a9a" stroke="#383838" stroke-width="0.7"/>
    <ellipse cx="796.3" cy="743.4" rx="0.9" ry="0.5" fill="#eee"/>
    <ellipse cx="801.0" cy="742.3" rx="1.9" ry="1.35" fill="#9a9a9a" stroke="#383838" stroke-width="0.7"/>
    <ellipse cx="800.7" cy="741.9" rx="0.9" ry="0.5" fill="#eee"/>
    <ellipse cx="805.4" cy="740.8" rx="1.9" ry="1.35" fill="#9a9a9a" stroke="#383838" stroke-width="0.7"/>
    <ellipse cx="805.1" cy="740.4" rx="0.9" ry="0.5" fill="#eee"/>
    <ellipse cx="809.8" cy="739.4" rx="1.9" ry="1.35" fill="#9a9a9a" stroke="#383838" stroke-width="0.7"/>
    <ellipse cx="809.5" cy="739.0" rx="0.9" ry="0.5" fill="#eee"/>
    <ellipse cx="814.2" cy="737.9" rx="1.9" ry="1.35" fill="#9a9a9a" stroke="#383838" stroke-width="0.7"/>
    <ellipse cx="813.9" cy="737.5" rx="0.9" ry="0.5" fill="#eee"/>
    <ellipse cx="818.6" cy="736.5" rx="1.9" ry="1.35" fill="#9a9a9a" stroke="#383838" stroke-width="0.7"/>
    <ellipse cx="818.3" cy="736.1" rx="0.9" ry="0.5" fill="#eee"/>
    <ellipse cx="823.0" cy="735.0" rx="1.9" ry="1.35" fill="#9a9a9a" stroke="#383838" stroke-width="0.7"/>
    <ellipse cx="822.7" cy="734.6" rx="0.9" ry="0.5" fill="#eee"/>
    <ellipse cx="827.4" cy="733.5" rx="1.9" ry="1.35" fill="#9a9a9a" stroke="#383838" stroke-width="0.7"/>
    <ellipse cx="827.1" cy="733.1" rx="0.9" ry="0.5" fill="#eee"/>
    <ellipse cx="831.8" cy="732.1" rx="1.9" ry="1.35" fill="#9a9a9a" stroke="#383838" stroke-width="0.7"/>
    <ellipse cx="831.5" cy="731.7" rx="0.9" ry="0.5" fill="#eee"/>
    <ellipse cx="836.2" cy="730.6" rx="1.9" ry="1.35" fill="#9a9a9a" stroke="#383838" stroke-width="0.7"/>
    <ellipse cx="835.9" cy="730.2" rx="0.9" ry="0.5" fill="#eee"/>
    <ellipse cx="840.6" cy="729.1" rx="1.9" ry="1.35" fill="#9a9a9a" stroke="#383838" stroke-width="0.7"/>
    <ellipse cx="840.3" cy="728.7" rx="0.9" ry="0.5" fill="#eee"/>
    <ellipse cx="845.0" cy="727.7" rx="1.9" ry="1.35" fill="#9a9a9a" stroke="#383838" stroke-width="0.7"/>
    <ellipse cx="844.7" cy="727.3" rx="0.9" ry="0.5" fill="#eee"/>
    <ellipse cx="849.4" cy="726.2" rx="1.9" ry="1.35" fill="#9a9a9a" stroke="#383838" stroke-width="0.7"/>
    <ellipse cx="849.1" cy="725.8" rx="0.9" ry="0.5" fill="#eee"/>
    <ellipse cx="853.8" cy="724.7" rx="1.9" ry="1.35" fill="#9a9a9a" stroke="#383838" stroke-width="0.7"/>
    <ellipse cx="853.5" cy="724.3" rx="0.9" ry="0.5" fill="#eee"/>
    <ellipse cx="858.2" cy="723.3" rx="1.9" ry="1.35" fill="#9a9a9a" stroke="#383838" stroke-width="0.7"/>
    <ellipse cx="857.9" cy="722.9" rx="0.9" ry="0.5" fill="#eee"/>
    <ellipse cx="862.6" cy="721.8" rx="1.9" ry="1.35" fill="#9a9a9a" stroke="#383838" stroke-width="0.7"/>
    <ellipse cx="862.3" cy="721.4" rx="0.9" ry="0.5" fill="#eee"/>
    <ellipse cx="768.0" cy="757.4" rx="1.9" ry="1.35" fill="#9a9a9a" stroke="#383838" stroke-width="0.7"/>
    <ellipse cx="767.7" cy="757.0" rx="0.9" ry="0.5" fill="#eee"/>
    <ellipse cx="772.4" cy="755.9" rx="1.9" ry="1.35" fill="#9a9a9a" stroke="#383838" stroke-width="0.7"/>
    <ellipse cx="772.1" cy="755.5" rx="0.9" ry="0.5" fill="#eee"/>
    <ellipse cx="776.8" cy="754.5" rx="1.9" ry="1.35" fill="#9a9a9a" stroke="#383838" stroke-width="0.7"/>
    <ellipse cx="776.5" cy="754.1" rx="0.9" ry="0.5" fill="#eee"/>
    <ellipse cx="781.2" cy="753.0" rx="1.9" ry="1.35" fill="#9a9a9a" stroke="#383838" stroke-width="0.7"/>
    <ellipse cx="780.9" cy="752.6" rx="0.9" ry="0.5" fill="#eee"/>
    <ellipse cx="785.6" cy="751.5" rx="1.9" ry="1.35" fill="#9a9a9a" stroke="#383838" stroke-width="0.7"/>
    <ellipse cx="785.3" cy="751.1" rx="0.9" ry="0.5" fill="#eee"/>
    <ellipse cx="790.0" cy="750.1" rx="1.9" ry="1.35" fill="#9a9a9a" stroke="#383838" stroke-width="0.7"/>
    <ellipse cx="789.7" cy="749.7" rx="0.9" ry="0.5" fill="#eee"/>
    <ellipse cx="794.4" cy="748.6" rx="1.9" ry="1.35" fill="#9a9a9a" stroke="#383838" stroke-width="0.7"/>
    <ellipse cx="794.1" cy="748.2" rx="0.9" ry="0.5" fill="#eee"/>
    <ellipse cx="798.8" cy="747.1" rx="1.9" ry="1.35" fill="#9a9a9a" stroke="#383838" stroke-width="0.7"/>
    <ellipse cx="798.5" cy="746.7" rx="0.9" ry="0.5" fill="#eee"/>
    <ellipse cx="803.2" cy="745.7" rx="1.9" ry="1.35" fill="#9a9a9a" stroke="#383838" stroke-width="0.7"/>
    <ellipse cx="802.9" cy="745.3" rx="0.9" ry="0.5" fill="#eee"/>
    <ellipse cx="807.6" cy="744.2" rx="1.9" ry="1.35" fill="#9a9a9a" stroke="#383838" stroke-width="0.7"/>
    <ellipse cx="807.3" cy="743.8" rx="0.9" ry="0.5" fill="#eee"/>
    <ellipse cx="812.0" cy="742.7" rx="1.9" ry="1.35" fill="#9a9a9a" stroke="#383838" stroke-width="0.7"/>
    <ellipse cx="811.7" cy="742.3" rx="0.9" ry="0.5" fill="#eee"/>
    <ellipse cx="816.4" cy="741.3" rx="1.9" ry="1.35" fill="#9a9a9a" stroke="#383838" stroke-width="0.7"/>
    <ellipse cx="816.1" cy="740.9" rx="0.9" ry="0.5" fill="#eee"/>
    <ellipse cx="820.8" cy="739.8" rx="1.9" ry="1.35" fill="#9a9a9a" stroke="#383838" stroke-width="0.7"/>
    <ellipse cx="820.5" cy="739.4" rx="0.9" ry="0.5" fill="#eee"/>
    <ellipse cx="825.2" cy="738.4" rx="1.9" ry="1.35" fill="#9a9a9a" stroke="#383838" stroke-width="0.7"/>
    <ellipse cx="824.9" cy="738.0" rx="0.9" ry="0.5" fill="#eee"/>
    <ellipse cx="829.6" cy="736.9" rx="1.9" ry="1.35" fill="#9a9a9a" stroke="#383838" stroke-width="0.7"/>
    <ellipse cx="829.3" cy="736.5" rx="0.9" ry="0.5" fill="#eee"/>
    <ellipse cx="834.0" cy="735.4" rx="1.9" ry="1.35" fill="#9a9a9a" stroke="#383838" stroke-width="0.7"/>
    <ellipse cx="833.7" cy="735.0" rx="0.9" ry="0.5" fill="#eee"/>
    <ellipse cx="838.4" cy="734.0" rx="1.9" ry="1.35" fill="#9a9a9a" stroke="#383838" stroke-width="0.7"/>
    <ellipse cx="838.1" cy="733.6" rx="0.9" ry="0.5" fill="#eee"/>
    <ellipse cx="842.8" cy="732.5" rx="1.9" ry="1.35" fill="#9a9a9a" stroke="#383838" stroke-width="0.7"/>
    <ellipse cx="842.5" cy="732.1" rx="0.9" ry="0.5" fill="#eee"/>
    <ellipse cx="847.2" cy="731.0" rx="1.9" ry="1.35" fill="#9a9a9a" stroke="#383838" stroke-width="0.7"/>
    <ellipse cx="846.9" cy="730.6" rx="0.9" ry="0.5" fill="#eee"/>
    <ellipse cx="851.6" cy="729.6" rx="1.9" ry="1.35" fill="#9a9a9a" stroke="#383838" stroke-width="0.7"/>
    <ellipse cx="851.3" cy="729.2" rx="0.9" ry="0.5" fill="#eee"/>
    <ellipse cx="856.0" cy="728.1" rx="1.9" ry="1.35" fill="#9a9a9a" stroke="#383838" stroke-width="0.7"/>
    <ellipse cx="855.7" cy="727.7" rx="0.9" ry="0.5" fill="#eee"/>
    <ellipse cx="860.4" cy="726.6" rx="1.9" ry="1.35" fill="#9a9a9a" stroke="#383838" stroke-width="0.7"/>
    <ellipse cx="860.1" cy="726.2" rx="0.9" ry="0.5" fill="#eee"/>
    <ellipse cx="770.2" cy="760.8" rx="1.9" ry="1.35" fill="#9a9a9a" stroke="#383838" stroke-width="0.7"/>
    <ellipse cx="769.9" cy="760.4" rx="0.9" ry="0.5" fill="#eee"/>
    <ellipse cx="774.6" cy="759.3" rx="1.9" ry="1.35" fill="#9a9a9a" stroke="#383838" stroke-width="0.7"/>
    <ellipse cx="774.3" cy="758.9" rx="0.9" ry="0.5" fill="#eee"/>
    <ellipse cx="779.0" cy="757.8" rx="1.9" ry="1.35" fill="#9a9a9a" stroke="#383838" stroke-width="0.7"/>
    <ellipse cx="778.7" cy="757.4" rx="0.9" ry="0.5" fill="#eee"/>
    <ellipse cx="783.4" cy="756.4" rx="1.9" ry="1.35" fill="#9a9a9a" stroke="#383838" stroke-width="0.7"/>
    <ellipse cx="783.1" cy="756.0" rx="0.9" ry="0.5" fill="#eee"/>
    <ellipse cx="787.8" cy="754.9" rx="1.9" ry="1.35" fill="#9a9a9a" stroke="#383838" stroke-width="0.7"/>
    <ellipse cx="787.5" cy="754.5" rx="0.9" ry="0.5" fill="#eee"/>
    <ellipse cx="792.2" cy="753.4" rx="1.9" ry="1.35" fill="#9a9a9a" stroke="#383838" stroke-width="0.7"/>
    <ellipse cx="791.9" cy="753.0" rx="0.9" ry="0.5" fill="#eee"/>
    <ellipse cx="796.6" cy="752.0" rx="1.9" ry="1.35" fill="#9a9a9a" stroke="#383838" stroke-width="0.7"/>
    <ellipse cx="796.3" cy="751.6" rx="0.9" ry="0.5" fill="#eee"/>
    <ellipse cx="801.0" cy="750.5" rx="1.9" ry="1.35" fill="#9a9a9a" stroke="#383838" stroke-width="0.7"/>
    <ellipse cx="800.7" cy="750.1" rx="0.9" ry="0.5" fill="#eee"/>
    <ellipse cx="805.4" cy="749.0" rx="1.9" ry="1.35" fill="#9a9a9a" stroke="#383838" stroke-width="0.7"/>
    <ellipse cx="805.1" cy="748.6" rx="0.9" ry="0.5" fill="#eee"/>
    <ellipse cx="809.8" cy="747.6" rx="1.9" ry="1.35" fill="#9a9a9a" stroke="#383838" stroke-width="0.7"/>
    <ellipse cx="809.5" cy="747.2" rx="0.9" ry="0.5" fill="#eee"/>
    <ellipse cx="814.2" cy="746.1" rx="1.9" ry="1.35" fill="#9a9a9a" stroke="#383838" stroke-width="0.7"/>
    <ellipse cx="813.9" cy="745.7" rx="0.9" ry="0.5" fill="#eee"/>
    <ellipse cx="818.6" cy="744.7" rx="1.9" ry="1.35" fill="#9a9a9a" stroke="#383838" stroke-width="0.7"/>
    <ellipse cx="818.3" cy="744.3" rx="0.9" ry="0.5" fill="#eee"/>
    <ellipse cx="823.0" cy="743.2" rx="1.9" ry="1.35" fill="#9a9a9a" stroke="#383838" stroke-width="0.7"/>
    <ellipse cx="822.7" cy="742.8" rx="0.9" ry="0.5" fill="#eee"/>
    <ellipse cx="827.4" cy="741.7" rx="1.9" ry="1.35" fill="#9a9a9a" stroke="#383838" stroke-width="0.7"/>
    <ellipse cx="827.1" cy="741.3" rx="0.9" ry="0.5" fill="#eee"/>
    <ellipse cx="831.8" cy="740.3" rx="1.9" ry="1.35" fill="#9a9a9a" stroke="#383838" stroke-width="0.7"/>
    <ellipse cx="831.5" cy="739.9" rx="0.9" ry="0.5" fill="#eee"/>
    <ellipse cx="836.2" cy="738.8" rx="1.9" ry="1.35" fill="#9a9a9a" stroke="#383838" stroke-width="0.7"/>
    <ellipse cx="835.9" cy="738.4" rx="0.9" ry="0.5" fill="#eee"/>
    <ellipse cx="840.6" cy="737.3" rx="1.9" ry="1.35" fill="#9a9a9a" stroke="#383838" stroke-width="0.7"/>
    <ellipse cx="840.3" cy="736.9" rx="0.9" ry="0.5" fill="#eee"/>
    <ellipse cx="845.0" cy="735.9" rx="1.9" ry="1.35" fill="#9a9a9a" stroke="#383838" stroke-width="0.7"/>
    <ellipse cx="844.7" cy="735.5" rx="0.9" ry="0.5" fill="#eee"/>
    <ellipse cx="849.4" cy="734.4" rx="1.9" ry="1.35" fill="#9a9a9a" stroke="#383838" stroke-width="0.7"/>
    <ellipse cx="849.1" cy="734.0" rx="0.9" ry="0.5" fill="#eee"/>
    <ellipse cx="853.8" cy="732.9" rx="1.9" ry="1.35" fill="#9a9a9a" stroke="#383838" stroke-width="0.7"/>
    <ellipse cx="853.5" cy="732.5" rx="0.9" ry="0.5" fill="#eee"/>
    <ellipse cx="858.2" cy="731.5" rx="1.9" ry="1.35" fill="#9a9a9a" stroke="#383838" stroke-width="0.7"/>
    <ellipse cx="857.9" cy="731.1" rx="0.9" ry="0.5" fill="#eee"/>
    <ellipse cx="862.6" cy="730.0" rx="1.9" ry="1.35" fill="#9a9a9a" stroke="#383838" stroke-width="0.7"/>
    <ellipse cx="862.3" cy="729.6" rx="0.9" ry="0.5" fill="#eee"/>
    <ellipse cx="768.0" cy="765.6" rx="1.9" ry="1.35" fill="#9a9a9a" stroke="#383838" stroke-width="0.7"/>
    <ellipse cx="767.7" cy="765.2" rx="0.9" ry="0.5" fill="#eee"/>
    <ellipse cx="772.4" cy="764.1" rx="1.9" ry="1.35" fill="#9a9a9a" stroke="#383838" stroke-width="0.7"/>
    <ellipse cx="772.1" cy="763.7" rx="0.9" ry="0.5" fill="#eee"/>
    <ellipse cx="776.8" cy="762.7" rx="1.9" ry="1.35" fill="#9a9a9a" stroke="#383838" stroke-width="0.7"/>
    <ellipse cx="776.5" cy="762.3" rx="0.9" ry="0.5" fill="#eee"/>
    <ellipse cx="781.2" cy="761.2" rx="1.9" ry="1.35" fill="#9a9a9a" stroke="#383838" stroke-width="0.7"/>
    <ellipse cx="780.9" cy="760.8" rx="0.9" ry="0.5" fill="#eee"/>
    <ellipse cx="785.6" cy="759.7" rx="1.9" ry="1.35" fill="#9a9a9a" stroke="#383838" stroke-width="0.7"/>
    <ellipse cx="785.3" cy="759.3" rx="0.9" ry="0.5" fill="#eee"/>
    <ellipse cx="790.0" cy="758.3" rx="1.9" ry="1.35" fill="#9a9a9a" stroke="#383838" stroke-width="0.7"/>
    <ellipse cx="789.7" cy="757.9" rx="0.9" ry="0.5" fill="#eee"/>
    <ellipse cx="794.4" cy="756.8" rx="1.9" ry="1.35" fill="#9a9a9a" stroke="#383838" stroke-width="0.7"/>
    <ellipse cx="794.1" cy="756.4" rx="0.9" ry="0.5" fill="#eee"/>
    <ellipse cx="798.8" cy="755.3" rx="1.9" ry="1.35" fill="#9a9a9a" stroke="#383838" stroke-width="0.7"/>
    <ellipse cx="798.5" cy="754.9" rx="0.9" ry="0.5" fill="#eee"/>
    <ellipse cx="803.2" cy="753.9" rx="1.9" ry="1.35" fill="#9a9a9a" stroke="#383838" stroke-width="0.7"/>
    <ellipse cx="802.9" cy="753.5" rx="0.9" ry="0.5" fill="#eee"/>
    <ellipse cx="807.6" cy="752.4" rx="1.9" ry="1.35" fill="#9a9a9a" stroke="#383838" stroke-width="0.7"/>
    <ellipse cx="807.3" cy="752.0" rx="0.9" ry="0.5" fill="#eee"/>
    <ellipse cx="812.0" cy="750.9" rx="1.9" ry="1.35" fill="#9a9a9a" stroke="#383838" stroke-width="0.7"/>
    <ellipse cx="811.7" cy="750.5" rx="0.9" ry="0.5" fill="#eee"/>
    <ellipse cx="816.4" cy="749.5" rx="1.9" ry="1.35" fill="#9a9a9a" stroke="#383838" stroke-width="0.7"/>
    <ellipse cx="816.1" cy="749.1" rx="0.9" ry="0.5" fill="#eee"/>
    <ellipse cx="820.8" cy="748.0" rx="1.9" ry="1.35" fill="#9a9a9a" stroke="#383838" stroke-width="0.7"/>
    <ellipse cx="820.5" cy="747.6" rx="0.9" ry="0.5" fill="#eee"/>
    <ellipse cx="825.2" cy="746.6" rx="1.9" ry="1.35" fill="#9a9a9a" stroke="#383838" stroke-width="0.7"/>
    <ellipse cx="824.9" cy="746.2" rx="0.9" ry="0.5" fill="#eee"/>
    <ellipse cx="829.6" cy="745.1" rx="1.9" ry="1.35" fill="#9a9a9a" stroke="#383838" stroke-width="0.7"/>
    <ellipse cx="829.3" cy="744.7" rx="0.9" ry="0.5" fill="#eee"/>
    <ellipse cx="834.0" cy="743.6" rx="1.9" ry="1.35" fill="#9a9a9a" stroke="#383838" stroke-width="0.7"/>
    <ellipse cx="833.7" cy="743.2" rx="0.9" ry="0.5" fill="#eee"/>
    <ellipse cx="838.4" cy="742.2" rx="1.9" ry="1.35" fill="#9a9a9a" stroke="#383838" stroke-width="0.7"/>
    <ellipse cx="838.1" cy="741.8" rx="0.9" ry="0.5" fill="#eee"/>
    <ellipse cx="842.8" cy="740.7" rx="1.9" ry="1.35" fill="#9a9a9a" stroke="#383838" stroke-width="0.7"/>
    <ellipse cx="842.5" cy="740.3" rx="0.9" ry="0.5" fill="#eee"/>
    <ellipse cx="847.2" cy="739.2" rx="1.9" ry="1.35" fill="#9a9a9a" stroke="#383838" stroke-width="0.7"/>
    <ellipse cx="846.9" cy="738.8" rx="0.9" ry="0.5" fill="#eee"/>
    <ellipse cx="851.6" cy="737.8" rx="1.9" ry="1.35" fill="#9a9a9a" stroke="#383838" stroke-width="0.7"/>
    <ellipse cx="851.3" cy="737.4" rx="0.9" ry="0.5" fill="#eee"/>
    <ellipse cx="856.0" cy="736.3" rx="1.9" ry="1.35" fill="#9a9a9a" stroke="#383838" stroke-width="0.7"/>
    <ellipse cx="855.7" cy="735.9" rx="0.9" ry="0.5" fill="#eee"/>
    <ellipse cx="860.4" cy="734.8" rx="1.9" ry="1.35" fill="#9a9a9a" stroke="#383838" stroke-width="0.7"/>
    <ellipse cx="860.1" cy="734.4" rx="0.9" ry="0.5" fill="#eee"/>
    <ellipse cx="770.2" cy="769.0" rx="1.9" ry="1.35" fill="#9a9a9a" stroke="#383838" stroke-width="0.7"/>
    <ellipse cx="769.9" cy="768.6" rx="0.9" ry="0.5" fill="#eee"/>
    <ellipse cx="774.6" cy="767.5" rx="1.9" ry="1.35" fill="#9a9a9a" stroke="#383838" stroke-width="0.7"/>
    <ellipse cx="774.3" cy="767.1" rx="0.9" ry="0.5" fill="#eee"/>
    <ellipse cx="779.0" cy="766.0" rx="1.9" ry="1.35" fill="#9a9a9a" stroke="#383838" stroke-width="0.7"/>
    <ellipse cx="778.7" cy="765.6" rx="0.9" ry="0.5" fill="#eee"/>
    <ellipse cx="783.4" cy="764.6" rx="1.9" ry="1.35" fill="#9a9a9a" stroke="#383838" stroke-width="0.7"/>
    <ellipse cx="783.1" cy="764.2" rx="0.9" ry="0.5" fill="#eee"/>
    <ellipse cx="787.8" cy="763.1" rx="1.9" ry="1.35" fill="#9a9a9a" stroke="#383838" stroke-width="0.7"/>
    <ellipse cx="787.5" cy="762.7" rx="0.9" ry="0.5" fill="#eee"/>
    <ellipse cx="792.2" cy="761.6" rx="1.9" ry="1.35" fill="#9a9a9a" stroke="#383838" stroke-width="0.7"/>
    <ellipse cx="791.9" cy="761.2" rx="0.9" ry="0.5" fill="#eee"/>
    <ellipse cx="796.6" cy="760.2" rx="1.9" ry="1.35" fill="#9a9a9a" stroke="#383838" stroke-width="0.7"/>
    <ellipse cx="796.3" cy="759.8" rx="0.9" ry="0.5" fill="#eee"/>
    <ellipse cx="801.0" cy="758.7" rx="1.9" ry="1.35" fill="#9a9a9a" stroke="#383838" stroke-width="0.7"/>
    <ellipse cx="800.7" cy="758.3" rx="0.9" ry="0.5" fill="#eee"/>
    <ellipse cx="805.4" cy="757.2" rx="1.9" ry="1.35" fill="#9a9a9a" stroke="#383838" stroke-width="0.7"/>
    <ellipse cx="805.1" cy="756.8" rx="0.9" ry="0.5" fill="#eee"/>
    <ellipse cx="809.8" cy="755.8" rx="1.9" ry="1.35" fill="#9a9a9a" stroke="#383838" stroke-width="0.7"/>
    <ellipse cx="809.5" cy="755.4" rx="0.9" ry="0.5" fill="#eee"/>
    <ellipse cx="814.2" cy="754.3" rx="1.9" ry="1.35" fill="#9a9a9a" stroke="#383838" stroke-width="0.7"/>
    <ellipse cx="813.9" cy="753.9" rx="0.9" ry="0.5" fill="#eee"/>
    <ellipse cx="818.6" cy="752.9" rx="1.9" ry="1.35" fill="#9a9a9a" stroke="#383838" stroke-width="0.7"/>
    <ellipse cx="818.3" cy="752.5" rx="0.9" ry="0.5" fill="#eee"/>
    <ellipse cx="823.0" cy="751.4" rx="1.9" ry="1.35" fill="#9a9a9a" stroke="#383838" stroke-width="0.7"/>
    <ellipse cx="822.7" cy="751.0" rx="0.9" ry="0.5" fill="#eee"/>
    <ellipse cx="827.4" cy="749.9" rx="1.9" ry="1.35" fill="#9a9a9a" stroke="#383838" stroke-width="0.7"/>
    <ellipse cx="827.1" cy="749.5" rx="0.9" ry="0.5" fill="#eee"/>
    <ellipse cx="831.8" cy="748.5" rx="1.9" ry="1.35" fill="#9a9a9a" stroke="#383838" stroke-width="0.7"/>
    <ellipse cx="831.5" cy="748.1" rx="0.9" ry="0.5" fill="#eee"/>
    <ellipse cx="836.2" cy="747.0" rx="1.9" ry="1.35" fill="#9a9a9a" stroke="#383838" stroke-width="0.7"/>
    <ellipse cx="835.9" cy="746.6" rx="0.9" ry="0.5" fill="#eee"/>
    <ellipse cx="840.6" cy="745.5" rx="1.9" ry="1.35" fill="#9a9a9a" stroke="#383838" stroke-width="0.7"/>
    <ellipse cx="840.3" cy="745.1" rx="0.9" ry="0.5" fill="#eee"/>
    <ellipse cx="845.0" cy="744.1" rx="1.9" ry="1.35" fill="#9a9a9a" stroke="#383838" stroke-width="0.7"/>
    <ellipse cx="844.7" cy="743.7" rx="0.9" ry="0.5" fill="#eee"/>
    <ellipse cx="849.4" cy="742.6" rx="1.9" ry="1.35" fill="#9a9a9a" stroke="#383838" stroke-width="0.7"/>
    <ellipse cx="849.1" cy="742.2" rx="0.9" ry="0.5" fill="#eee"/>
    <ellipse cx="853.8" cy="741.1" rx="1.9" ry="1.35" fill="#9a9a9a" stroke="#383838" stroke-width="0.7"/>
    <ellipse cx="853.5" cy="740.7" rx="0.9" ry="0.5" fill="#eee"/>
    <ellipse cx="858.2" cy="739.7" rx="1.9" ry="1.35" fill="#9a9a9a" stroke="#383838" stroke-width="0.7"/>
    <ellipse cx="857.9" cy="739.3" rx="0.9" ry="0.5" fill="#eee"/>
    <ellipse cx="862.6" cy="738.2" rx="1.9" ry="1.35" fill="#9a9a9a" stroke="#383838" stroke-width="0.7"/>
    <ellipse cx="862.3" cy="737.8" rx="0.9" ry="0.5" fill="#eee"/>
    <ellipse cx="768.0" cy="773.8" rx="1.9" ry="1.35" fill="#9a9a9a" stroke="#383838" stroke-width="0.7"/>
    <ellipse cx="767.7" cy="773.4" rx="0.9" ry="0.5" fill="#eee"/>
    <ellipse cx="772.4" cy="772.3" rx="1.9" ry="1.35" fill="#9a9a9a" stroke="#383838" stroke-width="0.7"/>
    <ellipse cx="772.1" cy="771.9" rx="0.9" ry="0.5" fill="#eee"/>
    <ellipse cx="776.8" cy="770.9" rx="1.9" ry="1.35" fill="#9a9a9a" stroke="#383838" stroke-width="0.7"/>
    <ellipse cx="776.5" cy="770.5" rx="0.9" ry="0.5" fill="#eee"/>
    <ellipse cx="781.2" cy="769.4" rx="1.9" ry="1.35" fill="#9a9a9a" stroke="#383838" stroke-width="0.7"/>
    <ellipse cx="780.9" cy="769.0" rx="0.9" ry="0.5" fill="#eee"/>
    <ellipse cx="785.6" cy="767.9" rx="1.9" ry="1.35" fill="#9a9a9a" stroke="#383838" stroke-width="0.7"/>
    <ellipse cx="785.3" cy="767.5" rx="0.9" ry="0.5" fill="#eee"/>
    <ellipse cx="790.0" cy="766.5" rx="1.9" ry="1.35" fill="#9a9a9a" stroke="#383838" stroke-width="0.7"/>
    <ellipse cx="789.7" cy="766.1" rx="0.9" ry="0.5" fill="#eee"/>
    <ellipse cx="794.4" cy="765.0" rx="1.9" ry="1.35" fill="#9a9a9a" stroke="#383838" stroke-width="0.7"/>
    <ellipse cx="794.1" cy="764.6" rx="0.9" ry="0.5" fill="#eee"/>
    <ellipse cx="798.8" cy="763.5" rx="1.9" ry="1.35" fill="#9a9a9a" stroke="#383838" stroke-width="0.7"/>
    <ellipse cx="798.5" cy="763.1" rx="0.9" ry="0.5" fill="#eee"/>
    <ellipse cx="803.2" cy="762.1" rx="1.9" ry="1.35" fill="#9a9a9a" stroke="#383838" stroke-width="0.7"/>
    <ellipse cx="802.9" cy="761.7" rx="0.9" ry="0.5" fill="#eee"/>
    <ellipse cx="807.6" cy="760.6" rx="1.9" ry="1.35" fill="#9a9a9a" stroke="#383838" stroke-width="0.7"/>
    <ellipse cx="807.3" cy="760.2" rx="0.9" ry="0.5" fill="#eee"/>
    <ellipse cx="812.0" cy="759.1" rx="1.9" ry="1.35" fill="#9a9a9a" stroke="#383838" stroke-width="0.7"/>
    <ellipse cx="811.7" cy="758.7" rx="0.9" ry="0.5" fill="#eee"/>
    <ellipse cx="816.4" cy="757.7" rx="1.9" ry="1.35" fill="#9a9a9a" stroke="#383838" stroke-width="0.7"/>
    <ellipse cx="816.1" cy="757.3" rx="0.9" ry="0.5" fill="#eee"/>
    <ellipse cx="820.8" cy="756.2" rx="1.9" ry="1.35" fill="#9a9a9a" stroke="#383838" stroke-width="0.7"/>
    <ellipse cx="820.5" cy="755.8" rx="0.9" ry="0.5" fill="#eee"/>
    <ellipse cx="825.2" cy="754.8" rx="1.9" ry="1.35" fill="#9a9a9a" stroke="#383838" stroke-width="0.7"/>
    <ellipse cx="824.9" cy="754.4" rx="0.9" ry="0.5" fill="#eee"/>
    <ellipse cx="829.6" cy="753.3" rx="1.9" ry="1.35" fill="#9a9a9a" stroke="#383838" stroke-width="0.7"/>
    <ellipse cx="829.3" cy="752.9" rx="0.9" ry="0.5" fill="#eee"/>
    <ellipse cx="834.0" cy="751.8" rx="1.9" ry="1.35" fill="#9a9a9a" stroke="#383838" stroke-width="0.7"/>
    <ellipse cx="833.7" cy="751.4" rx="0.9" ry="0.5" fill="#eee"/>
    <ellipse cx="838.4" cy="750.4" rx="1.9" ry="1.35" fill="#9a9a9a" stroke="#383838" stroke-width="0.7"/>
    <ellipse cx="838.1" cy="750.0" rx="0.9" ry="0.5" fill="#eee"/>
    <ellipse cx="842.8" cy="748.9" rx="1.9" ry="1.35" fill="#9a9a9a" stroke="#383838" stroke-width="0.7"/>
    <ellipse cx="842.5" cy="748.5" rx="0.9" ry="0.5" fill="#eee"/>
    <ellipse cx="847.2" cy="747.4" rx="1.9" ry="1.35" fill="#9a9a9a" stroke="#383838" stroke-width="0.7"/>
    <ellipse cx="846.9" cy="747.0" rx="0.9" ry="0.5" fill="#eee"/>
    <ellipse cx="851.6" cy="746.0" rx="1.9" ry="1.35" fill="#9a9a9a" stroke="#383838" stroke-width="0.7"/>
    <ellipse cx="851.3" cy="745.6" rx="0.9" ry="0.5" fill="#eee"/>
    <ellipse cx="856.0" cy="744.5" rx="1.9" ry="1.35" fill="#9a9a9a" stroke="#383838" stroke-width="0.7"/>
    <ellipse cx="855.7" cy="744.1" rx="0.9" ry="0.5" fill="#eee"/>
    <ellipse cx="860.4" cy="743.0" rx="1.9" ry="1.35" fill="#9a9a9a" stroke="#383838" stroke-width="0.7"/>
    <ellipse cx="860.1" cy="742.6" rx="0.9" ry="0.5" fill="#eee"/>
    <ellipse cx="770.2" cy="777.2" rx="1.9" ry="1.35" fill="#9a9a9a" stroke="#383838" stroke-width="0.7"/>
    <ellipse cx="769.9" cy="776.8" rx="0.9" ry="0.5" fill="#eee"/>
    <ellipse cx="774.6" cy="775.7" rx="1.9" ry="1.35" fill="#9a9a9a" stroke="#383838" stroke-width="0.7"/>
    <ellipse cx="774.3" cy="775.3" rx="0.9" ry="0.5" fill="#eee"/>
    <ellipse cx="779.0" cy="774.2" rx="1.9" ry="1.35" fill="#9a9a9a" stroke="#383838" stroke-width="0.7"/>
    <ellipse cx="778.7" cy="773.8" rx="0.9" ry="0.5" fill="#eee"/>
    <ellipse cx="783.4" cy="772.8" rx="1.9" ry="1.35" fill="#9a9a9a" stroke="#383838" stroke-width="0.7"/>
    <ellipse cx="783.1" cy="772.4" rx="0.9" ry="0.5" fill="#eee"/>
    <ellipse cx="787.8" cy="771.3" rx="1.9" ry="1.35" fill="#9a9a9a" stroke="#383838" stroke-width="0.7"/>
    <ellipse cx="787.5" cy="770.9" rx="0.9" ry="0.5" fill="#eee"/>
    <ellipse cx="792.2" cy="769.8" rx="1.9" ry="1.35" fill="#9a9a9a" stroke="#383838" stroke-width="0.7"/>
    <ellipse cx="791.9" cy="769.4" rx="0.9" ry="0.5" fill="#eee"/>
    <ellipse cx="796.6" cy="768.4" rx="1.9" ry="1.35" fill="#9a9a9a" stroke="#383838" stroke-width="0.7"/>
    <ellipse cx="796.3" cy="768.0" rx="0.9" ry="0.5" fill="#eee"/>
    <ellipse cx="801.0" cy="766.9" rx="1.9" ry="1.35" fill="#9a9a9a" stroke="#383838" stroke-width="0.7"/>
    <ellipse cx="800.7" cy="766.5" rx="0.9" ry="0.5" fill="#eee"/>
    <ellipse cx="805.4" cy="765.4" rx="1.9" ry="1.35" fill="#9a9a9a" stroke="#383838" stroke-width="0.7"/>
    <ellipse cx="805.1" cy="765.0" rx="0.9" ry="0.5" fill="#eee"/>
    <ellipse cx="809.8" cy="764.0" rx="1.9" ry="1.35" fill="#9a9a9a" stroke="#383838" stroke-width="0.7"/>
    <ellipse cx="809.5" cy="763.6" rx="0.9" ry="0.5" fill="#eee"/>
    <ellipse cx="814.2" cy="762.5" rx="1.9" ry="1.35" fill="#9a9a9a" stroke="#383838" stroke-width="0.7"/>
    <ellipse cx="813.9" cy="762.1" rx="0.9" ry="0.5" fill="#eee"/>
    <ellipse cx="818.6" cy="761.1" rx="1.9" ry="1.35" fill="#9a9a9a" stroke="#383838" stroke-width="0.7"/>
    <ellipse cx="818.3" cy="760.7" rx="0.9" ry="0.5" fill="#eee"/>
    <ellipse cx="823.0" cy="759.6" rx="1.9" ry="1.35" fill="#9a9a9a" stroke="#383838" stroke-width="0.7"/>
    <ellipse cx="822.7" cy="759.2" rx="0.9" ry="0.5" fill="#eee"/>
    <ellipse cx="827.4" cy="758.1" rx="1.9" ry="1.35" fill="#9a9a9a" stroke="#383838" stroke-width="0.7"/>
    <ellipse cx="827.1" cy="757.7" rx="0.9" ry="0.5" fill="#eee"/>
    <ellipse cx="831.8" cy="756.7" rx="1.9" ry="1.35" fill="#9a9a9a" stroke="#383838" stroke-width="0.7"/>
    <ellipse cx="831.5" cy="756.3" rx="0.9" ry="0.5" fill="#eee"/>
    <ellipse cx="836.2" cy="755.2" rx="1.9" ry="1.35" fill="#9a9a9a" stroke="#383838" stroke-width="0.7"/>
    <ellipse cx="835.9" cy="754.8" rx="0.9" ry="0.5" fill="#eee"/>
    <ellipse cx="840.6" cy="753.7" rx="1.9" ry="1.35" fill="#9a9a9a" stroke="#383838" stroke-width="0.7"/>
    <ellipse cx="840.3" cy="753.3" rx="0.9" ry="0.5" fill="#eee"/>
    <ellipse cx="845.0" cy="752.3" rx="1.9" ry="1.35" fill="#9a9a9a" stroke="#383838" stroke-width="0.7"/>
    <ellipse cx="844.7" cy="751.9" rx="0.9" ry="0.5" fill="#eee"/>
    <ellipse cx="849.4" cy="750.8" rx="1.9" ry="1.35" fill="#9a9a9a" stroke="#383838" stroke-width="0.7"/>
    <ellipse cx="849.1" cy="750.4" rx="0.9" ry="0.5" fill="#eee"/>
    <ellipse cx="853.8" cy="749.3" rx="1.9" ry="1.35" fill="#9a9a9a" stroke="#383838" stroke-width="0.7"/>
    <ellipse cx="853.5" cy="748.9" rx="0.9" ry="0.5" fill="#eee"/>
    <ellipse cx="858.2" cy="747.9" rx="1.9" ry="1.35" fill="#9a9a9a" stroke="#383838" stroke-width="0.7"/>
    <ellipse cx="857.9" cy="747.5" rx="0.9" ry="0.5" fill="#eee"/>
    <ellipse cx="862.6" cy="746.4" rx="1.9" ry="1.35" fill="#9a9a9a" stroke="#383838" stroke-width="0.7"/>
    <ellipse cx="862.3" cy="746.0" rx="0.9" ry="0.5" fill="#eee"/>
    <ellipse cx="768.0" cy="782.0" rx="1.9" ry="1.35" fill="#9a9a9a" stroke="#383838" stroke-width="0.7"/>
    <ellipse cx="767.7" cy="781.6" rx="0.9" ry="0.5" fill="#eee"/>
    <ellipse cx="772.4" cy="780.5" rx="1.9" ry="1.35" fill="#9a9a9a" stroke="#383838" stroke-width="0.7"/>
    <ellipse cx="772.1" cy="780.1" rx="0.9" ry="0.5" fill="#eee"/>
    <ellipse cx="776.8" cy="779.1" rx="1.9" ry="1.35" fill="#9a9a9a" stroke="#383838" stroke-width="0.7"/>
    <ellipse cx="776.5" cy="778.7" rx="0.9" ry="0.5" fill="#eee"/>
    <ellipse cx="781.2" cy="777.6" rx="1.9" ry="1.35" fill="#9a9a9a" stroke="#383838" stroke-width="0.7"/>
    <ellipse cx="780.9" cy="777.2" rx="0.9" ry="0.5" fill="#eee"/>
    <ellipse cx="785.6" cy="776.1" rx="1.9" ry="1.35" fill="#9a9a9a" stroke="#383838" stroke-width="0.7"/>
    <ellipse cx="785.3" cy="775.7" rx="0.9" ry="0.5" fill="#eee"/>
    <ellipse cx="790.0" cy="774.7" rx="1.9" ry="1.35" fill="#9a9a9a" stroke="#383838" stroke-width="0.7"/>
    <ellipse cx="789.7" cy="774.3" rx="0.9" ry="0.5" fill="#eee"/>
    <ellipse cx="794.4" cy="773.2" rx="1.9" ry="1.35" fill="#9a9a9a" stroke="#383838" stroke-width="0.7"/>
    <ellipse cx="794.1" cy="772.8" rx="0.9" ry="0.5" fill="#eee"/>
    <ellipse cx="798.8" cy="771.7" rx="1.9" ry="1.35" fill="#9a9a9a" stroke="#383838" stroke-width="0.7"/>
    <ellipse cx="798.5" cy="771.3" rx="0.9" ry="0.5" fill="#eee"/>
    <ellipse cx="803.2" cy="770.3" rx="1.9" ry="1.35" fill="#9a9a9a" stroke="#383838" stroke-width="0.7"/>
    <ellipse cx="802.9" cy="769.9" rx="0.9" ry="0.5" fill="#eee"/>
    <ellipse cx="807.6" cy="768.8" rx="1.9" ry="1.35" fill="#9a9a9a" stroke="#383838" stroke-width="0.7"/>
    <ellipse cx="807.3" cy="768.4" rx="0.9" ry="0.5" fill="#eee"/>
    <ellipse cx="812.0" cy="767.3" rx="1.9" ry="1.35" fill="#9a9a9a" stroke="#383838" stroke-width="0.7"/>
    <ellipse cx="811.7" cy="766.9" rx="0.9" ry="0.5" fill="#eee"/>
    <ellipse cx="816.4" cy="765.9" rx="1.9" ry="1.35" fill="#9a9a9a" stroke="#383838" stroke-width="0.7"/>
    <ellipse cx="816.1" cy="765.5" rx="0.9" ry="0.5" fill="#eee"/>
    <ellipse cx="820.8" cy="764.4" rx="1.9" ry="1.35" fill="#9a9a9a" stroke="#383838" stroke-width="0.7"/>
    <ellipse cx="820.5" cy="764.0" rx="0.9" ry="0.5" fill="#eee"/>
    <ellipse cx="825.2" cy="763.0" rx="1.9" ry="1.35" fill="#9a9a9a" stroke="#383838" stroke-width="0.7"/>
    <ellipse cx="824.9" cy="762.6" rx="0.9" ry="0.5" fill="#eee"/>
    <ellipse cx="829.6" cy="761.5" rx="1.9" ry="1.35" fill="#9a9a9a" stroke="#383838" stroke-width="0.7"/>
    <ellipse cx="829.3" cy="761.1" rx="0.9" ry="0.5" fill="#eee"/>
    <ellipse cx="834.0" cy="760.0" rx="1.9" ry="1.35" fill="#9a9a9a" stroke="#383838" stroke-width="0.7"/>
    <ellipse cx="833.7" cy="759.6" rx="0.9" ry="0.5" fill="#eee"/>
    <ellipse cx="838.4" cy="758.6" rx="1.9" ry="1.35" fill="#9a9a9a" stroke="#383838" stroke-width="0.7"/>
    <ellipse cx="838.1" cy="758.2" rx="0.9" ry="0.5" fill="#eee"/>
    <ellipse cx="842.8" cy="757.1" rx="1.9" ry="1.35" fill="#9a9a9a" stroke="#383838" stroke-width="0.7"/>
    <ellipse cx="842.5" cy="756.7" rx="0.9" ry="0.5" fill="#eee"/>
    <ellipse cx="847.2" cy="755.6" rx="1.9" ry="1.35" fill="#9a9a9a" stroke="#383838" stroke-width="0.7"/>
    <ellipse cx="846.9" cy="755.2" rx="0.9" ry="0.5" fill="#eee"/>
    <ellipse cx="851.6" cy="754.2" rx="1.9" ry="1.35" fill="#9a9a9a" stroke="#383838" stroke-width="0.7"/>
    <ellipse cx="851.3" cy="753.8" rx="0.9" ry="0.5" fill="#eee"/>
    <ellipse cx="856.0" cy="752.7" rx="1.9" ry="1.35" fill="#9a9a9a" stroke="#383838" stroke-width="0.7"/>
    <ellipse cx="855.7" cy="752.3" rx="0.9" ry="0.5" fill="#eee"/>
    <ellipse cx="860.4" cy="751.2" rx="1.9" ry="1.35" fill="#9a9a9a" stroke="#383838" stroke-width="0.7"/>
    <ellipse cx="860.1" cy="750.8" rx="0.9" ry="0.5" fill="#eee"/>
    <ellipse cx="770.2" cy="785.4" rx="1.9" ry="1.35" fill="#9a9a9a" stroke="#383838" stroke-width="0.7"/>
    <ellipse cx="769.9" cy="785.0" rx="0.9" ry="0.5" fill="#eee"/>
    <ellipse cx="774.6" cy="783.9" rx="1.9" ry="1.35" fill="#9a9a9a" stroke="#383838" stroke-width="0.7"/>
    <ellipse cx="774.3" cy="783.5" rx="0.9" ry="0.5" fill="#eee"/>
    <ellipse cx="779.0" cy="782.4" rx="1.9" ry="1.35" fill="#9a9a9a" stroke="#383838" stroke-width="0.7"/>
    <ellipse cx="778.7" cy="782.0" rx="0.9" ry="0.5" fill="#eee"/>
    <ellipse cx="783.4" cy="781.0" rx="1.9" ry="1.35" fill="#9a9a9a" stroke="#383838" stroke-width="0.7"/>
    <ellipse cx="783.1" cy="780.6" rx="0.9" ry="0.5" fill="#eee"/>
    <ellipse cx="787.8" cy="779.5" rx="1.9" ry="1.35" fill="#9a9a9a" stroke="#383838" stroke-width="0.7"/>
    <ellipse cx="787.5" cy="779.1" rx="0.9" ry="0.5" fill="#eee"/>
    <ellipse cx="792.2" cy="778.0" rx="1.9" ry="1.35" fill="#9a9a9a" stroke="#383838" stroke-width="0.7"/>
    <ellipse cx="791.9" cy="777.6" rx="0.9" ry="0.5" fill="#eee"/>
    <ellipse cx="796.6" cy="776.6" rx="1.9" ry="1.35" fill="#9a9a9a" stroke="#383838" stroke-width="0.7"/>
    <ellipse cx="796.3" cy="776.2" rx="0.9" ry="0.5" fill="#eee"/>
    <ellipse cx="801.0" cy="775.1" rx="1.9" ry="1.35" fill="#9a9a9a" stroke="#383838" stroke-width="0.7"/>
    <ellipse cx="800.7" cy="774.7" rx="0.9" ry="0.5" fill="#eee"/>
    <ellipse cx="805.4" cy="773.6" rx="1.9" ry="1.35" fill="#9a9a9a" stroke="#383838" stroke-width="0.7"/>
    <ellipse cx="805.1" cy="773.2" rx="0.9" ry="0.5" fill="#eee"/>
    <ellipse cx="809.8" cy="772.2" rx="1.9" ry="1.35" fill="#9a9a9a" stroke="#383838" stroke-width="0.7"/>
    <ellipse cx="809.5" cy="771.8" rx="0.9" ry="0.5" fill="#eee"/>
    <ellipse cx="814.2" cy="770.7" rx="1.9" ry="1.35" fill="#9a9a9a" stroke="#383838" stroke-width="0.7"/>
    <ellipse cx="813.9" cy="770.3" rx="0.9" ry="0.5" fill="#eee"/>
    <ellipse cx="818.6" cy="769.3" rx="1.9" ry="1.35" fill="#9a9a9a" stroke="#383838" stroke-width="0.7"/>
    <ellipse cx="818.3" cy="768.9" rx="0.9" ry="0.5" fill="#eee"/>
    <ellipse cx="823.0" cy="767.8" rx="1.9" ry="1.35" fill="#9a9a9a" stroke="#383838" stroke-width="0.7"/>
    <ellipse cx="822.7" cy="767.4" rx="0.9" ry="0.5" fill="#eee"/>
    <ellipse cx="827.4" cy="766.3" rx="1.9" ry="1.35" fill="#9a9a9a" stroke="#383838" stroke-width="0.7"/>
    <ellipse cx="827.1" cy="765.9" rx="0.9" ry="0.5" fill="#eee"/>
    <ellipse cx="831.8" cy="764.9" rx="1.9" ry="1.35" fill="#9a9a9a" stroke="#383838" stroke-width="0.7"/>
    <ellipse cx="831.5" cy="764.5" rx="0.9" ry="0.5" fill="#eee"/>
    <ellipse cx="836.2" cy="763.4" rx="1.9" ry="1.35" fill="#9a9a9a" stroke="#383838" stroke-width="0.7"/>
    <ellipse cx="835.9" cy="763.0" rx="0.9" ry="0.5" fill="#eee"/>
    <ellipse cx="840.6" cy="761.9" rx="1.9" ry="1.35" fill="#9a9a9a" stroke="#383838" stroke-width="0.7"/>
    <ellipse cx="840.3" cy="761.5" rx="0.9" ry="0.5" fill="#eee"/>
    <ellipse cx="845.0" cy="760.5" rx="1.9" ry="1.35" fill="#9a9a9a" stroke="#383838" stroke-width="0.7"/>
    <ellipse cx="844.7" cy="760.1" rx="0.9" ry="0.5" fill="#eee"/>
    <ellipse cx="849.4" cy="759.0" rx="1.9" ry="1.35" fill="#9a9a9a" stroke="#383838" stroke-width="0.7"/>
    <ellipse cx="849.1" cy="758.6" rx="0.9" ry="0.5" fill="#eee"/>
    <ellipse cx="853.8" cy="757.5" rx="1.9" ry="1.35" fill="#9a9a9a" stroke="#383838" stroke-width="0.7"/>
    <ellipse cx="853.5" cy="757.1" rx="0.9" ry="0.5" fill="#eee"/>
    <ellipse cx="858.2" cy="756.1" rx="1.9" ry="1.35" fill="#9a9a9a" stroke="#383838" stroke-width="0.7"/>
    <ellipse cx="857.9" cy="755.7" rx="0.9" ry="0.5" fill="#eee"/>
    <ellipse cx="862.6" cy="754.6" rx="1.9" ry="1.35" fill="#9a9a9a" stroke="#383838" stroke-width="0.7"/>
    <ellipse cx="862.3" cy="754.2" rx="0.9" ry="0.5" fill="#eee"/>
    <ellipse cx="768.0" cy="790.2" rx="1.9" ry="1.35" fill="#9a9a9a" stroke="#383838" stroke-width="0.7"/>
    <ellipse cx="767.7" cy="789.8" rx="0.9" ry="0.5" fill="#eee"/>
    <ellipse cx="772.4" cy="788.7" rx="1.9" ry="1.35" fill="#9a9a9a" stroke="#383838" stroke-width="0.7"/>
    <ellipse cx="772.1" cy="788.3" rx="0.9" ry="0.5" fill="#eee"/>
    <ellipse cx="776.8" cy="787.3" rx="1.9" ry="1.35" fill="#9a9a9a" stroke="#383838" stroke-width="0.7"/>
    <ellipse cx="776.5" cy="786.9" rx="0.9" ry="0.5" fill="#eee"/>
    <ellipse cx="781.2" cy="785.8" rx="1.9" ry="1.35" fill="#9a9a9a" stroke="#383838" stroke-width="0.7"/>
    <ellipse cx="780.9" cy="785.4" rx="0.9" ry="0.5" fill="#eee"/>
    <ellipse cx="785.6" cy="784.3" rx="1.9" ry="1.35" fill="#9a9a9a" stroke="#383838" stroke-width="0.7"/>
    <ellipse cx="785.3" cy="783.9" rx="0.9" ry="0.5" fill="#eee"/>
    <ellipse cx="790.0" cy="782.9" rx="1.9" ry="1.35" fill="#9a9a9a" stroke="#383838" stroke-width="0.7"/>
    <ellipse cx="789.7" cy="782.5" rx="0.9" ry="0.5" fill="#eee"/>
    <ellipse cx="794.4" cy="781.4" rx="1.9" ry="1.35" fill="#9a9a9a" stroke="#383838" stroke-width="0.7"/>
    <ellipse cx="794.1" cy="781.0" rx="0.9" ry="0.5" fill="#eee"/>
    <ellipse cx="798.8" cy="779.9" rx="1.9" ry="1.35" fill="#9a9a9a" stroke="#383838" stroke-width="0.7"/>
    <ellipse cx="798.5" cy="779.5" rx="0.9" ry="0.5" fill="#eee"/>
    <ellipse cx="803.2" cy="778.5" rx="1.9" ry="1.35" fill="#9a9a9a" stroke="#383838" stroke-width="0.7"/>
    <ellipse cx="802.9" cy="778.1" rx="0.9" ry="0.5" fill="#eee"/>
    <ellipse cx="807.6" cy="777.0" rx="1.9" ry="1.35" fill="#9a9a9a" stroke="#383838" stroke-width="0.7"/>
    <ellipse cx="807.3" cy="776.6" rx="0.9" ry="0.5" fill="#eee"/>
    <ellipse cx="812.0" cy="775.5" rx="1.9" ry="1.35" fill="#9a9a9a" stroke="#383838" stroke-width="0.7"/>
    <ellipse cx="811.7" cy="775.1" rx="0.9" ry="0.5" fill="#eee"/>
    <ellipse cx="816.4" cy="774.1" rx="1.9" ry="1.35" fill="#9a9a9a" stroke="#383838" stroke-width="0.7"/>
    <ellipse cx="816.1" cy="773.7" rx="0.9" ry="0.5" fill="#eee"/>
    <ellipse cx="820.8" cy="772.6" rx="1.9" ry="1.35" fill="#9a9a9a" stroke="#383838" stroke-width="0.7"/>
    <ellipse cx="820.5" cy="772.2" rx="0.9" ry="0.5" fill="#eee"/>
    <ellipse cx="825.2" cy="771.2" rx="1.9" ry="1.35" fill="#9a9a9a" stroke="#383838" stroke-width="0.7"/>
    <ellipse cx="824.9" cy="770.8" rx="0.9" ry="0.5" fill="#eee"/>
    <ellipse cx="829.6" cy="769.7" rx="1.9" ry="1.35" fill="#9a9a9a" stroke="#383838" stroke-width="0.7"/>
    <ellipse cx="829.3" cy="769.3" rx="0.9" ry="0.5" fill="#eee"/>
    <ellipse cx="834.0" cy="768.2" rx="1.9" ry="1.35" fill="#9a9a9a" stroke="#383838" stroke-width="0.7"/>
    <ellipse cx="833.7" cy="767.8" rx="0.9" ry="0.5" fill="#eee"/>
    <ellipse cx="838.4" cy="766.8" rx="1.9" ry="1.35" fill="#9a9a9a" stroke="#383838" stroke-width="0.7"/>
    <ellipse cx="838.1" cy="766.4" rx="0.9" ry="0.5" fill="#eee"/>
    <ellipse cx="842.8" cy="765.3" rx="1.9" ry="1.35" fill="#9a9a9a" stroke="#383838" stroke-width="0.7"/>
    <ellipse cx="842.5" cy="764.9" rx="0.9" ry="0.5" fill="#eee"/>
    <ellipse cx="847.2" cy="763.8" rx="1.9" ry="1.35" fill="#9a9a9a" stroke="#383838" stroke-width="0.7"/>
    <ellipse cx="846.9" cy="763.4" rx="0.9" ry="0.5" fill="#eee"/>
    <ellipse cx="851.6" cy="762.4" rx="1.9" ry="1.35" fill="#9a9a9a" stroke="#383838" stroke-width="0.7"/>
    <ellipse cx="851.3" cy="762.0" rx="0.9" ry="0.5" fill="#eee"/>
    <ellipse cx="856.0" cy="760.9" rx="1.9" ry="1.35" fill="#9a9a9a" stroke="#383838" stroke-width="0.7"/>
    <ellipse cx="855.7" cy="760.5" rx="0.9" ry="0.5" fill="#eee"/>
    <ellipse cx="860.4" cy="759.4" rx="1.9" ry="1.35" fill="#9a9a9a" stroke="#383838" stroke-width="0.7"/>
    <ellipse cx="860.1" cy="759.0" rx="0.9" ry="0.5" fill="#eee"/>
    <ellipse cx="770.2" cy="793.6" rx="1.9" ry="1.35" fill="#9a9a9a" stroke="#383838" stroke-width="0.7"/>
    <ellipse cx="769.9" cy="793.2" rx="0.9" ry="0.5" fill="#eee"/>
    <ellipse cx="774.6" cy="792.1" rx="1.9" ry="1.35" fill="#9a9a9a" stroke="#383838" stroke-width="0.7"/>
    <ellipse cx="774.3" cy="791.7" rx="0.9" ry="0.5" fill="#eee"/>
    <ellipse cx="779.0" cy="790.6" rx="1.9" ry="1.35" fill="#9a9a9a" stroke="#383838" stroke-width="0.7"/>
    <ellipse cx="778.7" cy="790.2" rx="0.9" ry="0.5" fill="#eee"/>
    <ellipse cx="783.4" cy="789.2" rx="1.9" ry="1.35" fill="#9a9a9a" stroke="#383838" stroke-width="0.7"/>
    <ellipse cx="783.1" cy="788.8" rx="0.9" ry="0.5" fill="#eee"/>
    <ellipse cx="787.8" cy="787.7" rx="1.9" ry="1.35" fill="#9a9a9a" stroke="#383838" stroke-width="0.7"/>
    <ellipse cx="787.5" cy="787.3" rx="0.9" ry="0.5" fill="#eee"/>
    <ellipse cx="792.2" cy="786.2" rx="1.9" ry="1.35" fill="#9a9a9a" stroke="#383838" stroke-width="0.7"/>
    <ellipse cx="791.9" cy="785.8" rx="0.9" ry="0.5" fill="#eee"/>
    <ellipse cx="796.6" cy="784.8" rx="1.9" ry="1.35" fill="#9a9a9a" stroke="#383838" stroke-width="0.7"/>
    <ellipse cx="796.3" cy="784.4" rx="0.9" ry="0.5" fill="#eee"/>
    <ellipse cx="801.0" cy="783.3" rx="1.9" ry="1.35" fill="#9a9a9a" stroke="#383838" stroke-width="0.7"/>
    <ellipse cx="800.7" cy="782.9" rx="0.9" ry="0.5" fill="#eee"/>
    <ellipse cx="805.4" cy="781.8" rx="1.9" ry="1.35" fill="#9a9a9a" stroke="#383838" stroke-width="0.7"/>
    <ellipse cx="805.1" cy="781.4" rx="0.9" ry="0.5" fill="#eee"/>
    <ellipse cx="809.8" cy="780.4" rx="1.9" ry="1.35" fill="#9a9a9a" stroke="#383838" stroke-width="0.7"/>
    <ellipse cx="809.5" cy="780.0" rx="0.9" ry="0.5" fill="#eee"/>
    <ellipse cx="814.2" cy="778.9" rx="1.9" ry="1.35" fill="#9a9a9a" stroke="#383838" stroke-width="0.7"/>
    <ellipse cx="813.9" cy="778.5" rx="0.9" ry="0.5" fill="#eee"/>
    <ellipse cx="818.6" cy="777.5" rx="1.9" ry="1.35" fill="#9a9a9a" stroke="#383838" stroke-width="0.7"/>
    <ellipse cx="818.3" cy="777.1" rx="0.9" ry="0.5" fill="#eee"/>
    <ellipse cx="823.0" cy="776.0" rx="1.9" ry="1.35" fill="#9a9a9a" stroke="#383838" stroke-width="0.7"/>
    <ellipse cx="822.7" cy="775.6" rx="0.9" ry="0.5" fill="#eee"/>
    <ellipse cx="827.4" cy="774.5" rx="1.9" ry="1.35" fill="#9a9a9a" stroke="#383838" stroke-width="0.7"/>
    <ellipse cx="827.1" cy="774.1" rx="0.9" ry="0.5" fill="#eee"/>
    <ellipse cx="831.8" cy="773.1" rx="1.9" ry="1.35" fill="#9a9a9a" stroke="#383838" stroke-width="0.7"/>
    <ellipse cx="831.5" cy="772.7" rx="0.9" ry="0.5" fill="#eee"/>
    <ellipse cx="836.2" cy="771.6" rx="1.9" ry="1.35" fill="#9a9a9a" stroke="#383838" stroke-width="0.7"/>
    <ellipse cx="835.9" cy="771.2" rx="0.9" ry="0.5" fill="#eee"/>
    <ellipse cx="840.6" cy="770.1" rx="1.9" ry="1.35" fill="#9a9a9a" stroke="#383838" stroke-width="0.7"/>
    <ellipse cx="840.3" cy="769.7" rx="0.9" ry="0.5" fill="#eee"/>
    <ellipse cx="845.0" cy="768.7" rx="1.9" ry="1.35" fill="#9a9a9a" stroke="#383838" stroke-width="0.7"/>
    <ellipse cx="844.7" cy="768.3" rx="0.9" ry="0.5" fill="#eee"/>
    <ellipse cx="849.4" cy="767.2" rx="1.9" ry="1.35" fill="#9a9a9a" stroke="#383838" stroke-width="0.7"/>
    <ellipse cx="849.1" cy="766.8" rx="0.9" ry="0.5" fill="#eee"/>
    <ellipse cx="853.8" cy="765.7" rx="1.9" ry="1.35" fill="#9a9a9a" stroke="#383838" stroke-width="0.7"/>
    <ellipse cx="853.5" cy="765.3" rx="0.9" ry="0.5" fill="#eee"/>
    <ellipse cx="858.2" cy="764.3" rx="1.9" ry="1.35" fill="#9a9a9a" stroke="#383838" stroke-width="0.7"/>
    <ellipse cx="857.9" cy="763.9" rx="0.9" ry="0.5" fill="#eee"/>
    <ellipse cx="862.6" cy="762.8" rx="1.9" ry="1.35" fill="#9a9a9a" stroke="#383838" stroke-width="0.7"/>
    <ellipse cx="862.3" cy="762.4" rx="0.9" ry="0.5" fill="#eee"/>
  </g>
  <path d="M722.7,795 C722.5,777 726,757 733,746.5" fill="none" stroke="#333" stroke-width="0.7"/>
  <path d="M722,795 L833,758.7 L831.9,766.8 L722,802" fill="#f4f4f4" stroke="#555" stroke-width="0.5"/>
  <path d="M724,798 L832,762.5" stroke="#888" stroke-width="0.4"/>
  <ellipse cx="810.5" cy="776.8" rx="5.5" ry="2.6" fill="#a8a8a8" stroke="#444" stroke-width="0.6"/>
  <g clip-path="url(#barrel)">
    <rect x="665" y="725" width="55" height="75" fill="#dcdcdc"/>
    <path d="M665,722.0 L720,704.0" stroke="#3a3a3a" stroke-width="0.75"/>
    <path d="M665,724.0 L720,706.0" stroke="#3a3a3a" stroke-width="0.75"/>
    <path d="M665,726.0 L720,708.0" stroke="#3a3a3a" stroke-width="0.75"/>
    <path d="M665,728.0 L720,710.0" stroke="#3a3a3a" stroke-width="0.75"/>
    <path d="M665,730.0 L720,712.0" stroke="#3a3a3a" stroke-width="0.75"/>
    <path d="M665,732.0 L720,714.0" stroke="#3a3a3a" stroke-width="0.75"/>
    <path d="M665,734.0 L720,716.0" stroke="#3a3a3a" stroke-width="0.75"/>
    <path d="M665,736.0 L720,718.0" stroke="#3a3a3a" stroke-width="0.75"/>
    <path d="M665,738.0 L720,720.0" stroke="#3a3a3a" stroke-width="0.75"/>
    <path d="M665,740.0 L720,722.0" stroke="#3a3a3a" stroke-width="0.75"/>
    <path d="M665,742.0 L720,724.0" stroke="#3a3a3a" stroke-width="0.75"/>
    <path d="M665,744.0 L720,726.0" stroke="#3a3a3a" stroke-width="0.75"/>
    <path d="M665,746.0 L720,728.0" stroke="#3a3a3a" stroke-width="0.75"/>
    <path d="M665,748.0 L720,730.0" stroke="#3a3a3a" stroke-width="0.75"/>
    <path d="M665,750.0 L720,732.0" stroke="#3a3a3a" stroke-width="0.75"/>
    <path d="M665,752.0 L720,734.0" stroke="#3a3a3a" stroke-width="0.75"/>
    <path d="M665,754.0 L720,736.0" stroke="#3a3a3a" stroke-width="0.75"/>
    <path d="M665,756.0 L720,738.0" stroke="#3a3a3a" stroke-width="0.75"/>
    <path d="M665,758.0 L720,740.0" stroke="#3a3a3a" stroke-width="0.75"/>
    <path d="M665,760.0 L720,742.0" stroke="#3a3a3a" stroke-width="0.75"/>
    <path d="M665,762.0 L720,744.0" stroke="#3a3a3a" stroke-width="0.75"/>
    <path d="M665,764.0 L720,746.0" stroke="#3a3a3a" stroke-width="0.75"/>
    <path d="M665,766.0 L720,748.0" stroke="#3a3a3a" stroke-width="0.75"/>
    <path d="M665,768.0 L720,750.0" stroke="#3a3a3a" stroke-width="0.75"/>
    <path d="M665,770.0 L720,752.0" stroke="#3a3a3a" stroke-width="0.75"/>
    <path d="M665,772.0 L720,754.0" stroke="#3a3a3a" stroke-width="0.75"/>
    <path d="M665,774.0 L720,756.0" stroke="#3a3a3a" stroke-width="0.75"/>
    <path d="M665,776.0 L720,758.0" stroke="#3a3a3a" stroke-width="0.75"/>
    <path d="M665,778.0 L720,760.0" stroke="#3a3a3a" stroke-width="0.75"/>
    <path d="M665,780.0 L720,762.0" stroke="#3a3a3a" stroke-width="0.75"/>
    <path d="M665,782.0 L720,764.0" stroke="#3a3a3a" stroke-width="0.75"/>
    <path d="M665,784.0 L720,766.0" stroke="#3a3a3a" stroke-width="0.75"/>
    <path d="M665,786.0 L720,768.0" stroke="#3a3a3a" stroke-width="0.75"/>
    <path d="M665,788.0 L720,770.0" stroke="#3a3a3a" stroke-width="0.75"/>
    <path d="M665,790.0 L720,772.0" stroke="#3a3a3a" stroke-width="0.75"/>
    <path d="M665,792.0 L720,774.0" stroke="#3a3a3a" stroke-width="0.75"/>
    <path d="M665,794.0 L720,776.0" stroke="#3a3a3a" stroke-width="0.75"/>
    <path d="M665,796.0 L720,778.0" stroke="#3a3a3a" stroke-width="0.75"/>
    <path d="M665,798.0 L720,780.0" stroke="#3a3a3a" stroke-width="0.75"/>
    <path d="M665,800.0 L720,782.0" stroke="#3a3a3a" stroke-width="0.75"/>
  </g>
  <path d="M668,738 C680,726 702,727 713,740 C719,752 717,778 706,792 C696,799 680,797 672,790" fill="none" stroke="#333" stroke-width="0.8"/>
  <path d="M704,733 C716,738 722,758 719,776 C716,790 710,796 704,799" fill="none" stroke="#555" stroke-width="0.6"/>
  <ellipse cx="677.5" cy="765" rx="16.8" ry="28" transform="rotate(-14 677.5 765)" fill="#505050" stroke="#222" stroke-width="0.9"/>
  <ellipse cx="678.6" cy="764.4" rx="14" ry="24.5" transform="rotate(-14 678.6 764.4)" fill="#7a7a7a" stroke="#333" stroke-width="0.5"/>
  <ellipse cx="681" cy="763" rx="11" ry="20" transform="rotate(-14 681 763)" fill="url(#glassG)" stroke="#555" stroke-width="0.7"/>
  <path d="M701,646.3 L832.5,706" fill="none" stroke="#444" stroke-width="0.7"/>
  <path d="M715.4,656.2 C740,666 765,677 788.7,688.6 C789.5,689.5 788.5,690 787,689.8 C762,682 738,672 713.5,660 C712.5,658.5 713.5,656 715.4,656.2 Z" fill="#f0f0f0" stroke="#555" stroke-width="0.6"/>
  <rect x="712" y="661" width="16" height="7" rx="3" transform="rotate(22 720 664.5)" fill="#e8e8e8" stroke="#444" stroke-width="0.8"/>
  <path d="M725,661 L726,661.5 M729,662.5 L730,663 M733,664 L734,664.5 M737,665.5 L738,666" stroke="#444" stroke-width="0.9"/>
  <ellipse cx="739.4" cy="675.3" rx="13.5" ry="5.6" fill="#e6e6e6" stroke="#3a3a3a" stroke-width="1"/>
  <ellipse cx="739.4" cy="675.3" rx="7.5" ry="2.9" fill="#f4f4f4" stroke="#444" stroke-width="0.7"/>
  <rect x="750.5" y="681" width="26" height="6.5" rx="3" transform="rotate(12 763.5 684.2)" fill="#cfcfcf" stroke="#333" stroke-width="0.9"/>
  <path d="M755,683 L772,686.5" stroke="#555" stroke-width="1.6"/>
  <path d="M699.5,680 C705,681.5 711,683.5 716,685 M711,684 C713,687 716,690 720,691 C722,691.5 724,692.5 724.7,693.5 M714,688 L719,687" fill="none" stroke="#333" stroke-width="1.1"/>
  <path d="M697,711 L712,708 L745.4,722 L733,731.5 L697.5,716 Z" fill="#f4f4f4" stroke="#555" stroke-width="0.6"/>
  <path d="M711,711.5 L727,717 L735,722 L723,727 L710,719 Z" fill="#555"/>
  <path d="M713.0,712.0 L711.0,719.0" stroke="#bbb" stroke-width="0.5"/>
  <path d="M716.5,713.3 L714.5,720.3" stroke="#bbb" stroke-width="0.5"/>
  <path d="M720.0,714.6 L718.0,721.6" stroke="#bbb" stroke-width="0.5"/>
  <path d="M723.5,715.9 L721.5,722.9" stroke="#bbb" stroke-width="0.5"/>
  <path d="M727.0,717.2 L725.0,724.2" stroke="#bbb" stroke-width="0.5"/>
  <path d="M730.5,718.5 L728.5,725.5" stroke="#bbb" stroke-width="0.5"/>
  <path d="M705,722 L707,722.5 M712,725 L714,725.5 M719,728 L721,728.5" stroke="#444" stroke-width="1"/>
  <path d="M714.0,736.0 L724.0,737.0" stroke="#555" stroke-width="0.7"/>
  <path d="M714.2,742.0 L723.4,742.3" stroke="#555" stroke-width="0.7"/>
  <path d="M714.4,748.0 L722.8,747.6" stroke="#555" stroke-width="0.7"/>
  <path d="M714.6,754.0 L722.2,752.9" stroke="#555" stroke-width="0.7"/>
  <path d="M714.8,760.0 L721.6,758.2" stroke="#555" stroke-width="0.7"/>
  <path d="M715.0,766.0 L721.0,763.5" stroke="#555" stroke-width="0.7"/>
  <path d="M715.2,772.0 L720.4,768.8" stroke="#555" stroke-width="0.7"/>
  <path d="M715.4,778.0 L719.8,774.1" stroke="#555" stroke-width="0.7"/>
</g>

<!-- ARROWS -->
<g id="arrows" fill="none">
  <path d="M354,301 V397.5" stroke="#6cc12a" stroke-width="1.5"/>
  <path d="M350.8,397 L357.2,397 L354,403 Z" fill="#6cc12a"/>
  <path d="M567.1,301 V366" stroke="#76d0f3" stroke-width="1.7"/>
  <path d="M563.6,365 L570.6,365 L567.1,370.8 Z" fill="#76d0f3"/>
  <path d="M596,301 V326 H743.8 V349.5" stroke="#76d0f3" stroke-width="1.7"/>
  <path d="M740.3,349 L747.3,349 L743.8,354.8 Z" fill="#76d0f3"/>
  <path d="M786,301 V349.5" stroke="#f07f00" stroke-width="1.9"/>
  <path d="M782.6,349 L789.4,349 L786,354.8 Z" fill="#f07f00"/>
  <path d="M354.1,523 V616.8 H650.5 V636" stroke="#555" stroke-width="2"/>
  <path d="M647,635.5 L654,635.5 L650.5,642 Z" fill="#555"/>
  <path d="M567,523 V580.8 H711.3 V636" stroke="#555" stroke-width="2.5"/>
  <path d="M707.6,635.5 L715,635.5 L711.3,642 Z" fill="#555"/>
  <path d="M785.6,559 V636" stroke="#555" stroke-width="1.6"/>
  <path d="M782.2,635.5 L789,635.5 L785.6,642 Z" fill="#555"/>
  <path d="M463,716.7 H513" stroke="#e5007e" stroke-width="2.1"/>
  <path d="M459,716.7 L465.3,713.2 L464.3,716.7 L465.3,720.2 Z" fill="#e5007e" stroke="#e5007e" stroke-width="0.5" stroke-linejoin="round"/>
  <path d="M517,716.7 L510.7,713.2 L511.7,716.7 L510.7,720.2 Z" fill="#e5007e" stroke="#e5007e" stroke-width="0.5" stroke-linejoin="round"/>
</g>

</svg>
</body></html>
